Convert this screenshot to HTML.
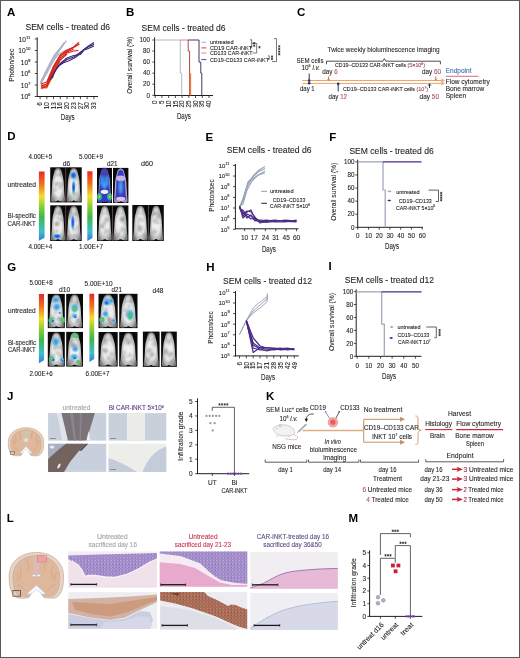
<!DOCTYPE html>
<html><head><meta charset="utf-8"><style>
html,body{margin:0;padding:0;background:#fff;}
svg{display:block;filter:blur(0.3px);}
svg text{font-family:"Liberation Sans", sans-serif;}
</style></head><body>
<svg width="520" height="658" viewBox="0 0 520 658" font-family="'Liberation Sans', sans-serif" fill="#231f20">
<defs>
<pattern id="hePur" width="3.2" height="3.2" patternUnits="userSpaceOnUse"><rect width="3.2" height="3.2" fill="#a690cc"/><circle cx="1" cy="1" r="0.62" fill="#7a62b0"/><circle cx="2.5" cy="2.4" r="0.45" fill="#8c76bc"/><circle cx="2.4" cy="0.7" r="0.45" fill="#ded4ec"/></pattern>
<pattern id="ihcBr" width="3.2" height="3.2" patternUnits="userSpaceOnUse"><rect width="3.2" height="3.2" fill="#ac705a"/><circle cx="1" cy="1" r="0.62" fill="#864634"/><circle cx="2.5" cy="2.4" r="0.45" fill="#965844"/><circle cx="2.4" cy="0.7" r="0.45" fill="#d8ac9c"/></pattern>
<filter id="bl1" x="-50%" y="-50%" width="200%" height="200%"><feGaussianBlur stdDeviation="0.8"/></filter>
<filter id="bl2" x="-50%" y="-50%" width="200%" height="200%"><feGaussianBlur stdDeviation="0.5"/></filter>
<linearGradient id="cbar" x1="0" y1="0" x2="0" y2="1">
 <stop offset="0" stop-color="#e62a2a"/><stop offset="0.18" stop-color="#f0701e"/>
 <stop offset="0.36" stop-color="#f2df2c"/><stop offset="0.5" stop-color="#8fcf3a"/>
 <stop offset="0.66" stop-color="#3cb84a"/><stop offset="0.86" stop-color="#3ec0c8"/>
 <stop offset="1" stop-color="#3a78e0"/></linearGradient>
<radialGradient id="mouse" cx="0.5" cy="0.55" r="0.55">
 <stop offset="0" stop-color="#f6f6f6"/><stop offset="0.5" stop-color="#dedede"/>
 <stop offset="0.8" stop-color="#b4b4b4"/><stop offset="1" stop-color="#7a7a7a"/></radialGradient>
<radialGradient id="blueb" cx="0.5" cy="0.5" r="0.5">
 <stop offset="0" stop-color="#2a3ee0"/><stop offset="0.45" stop-color="#3c78e6"/><stop offset="0.8" stop-color="#6cc4e8" stop-opacity="0.7"/><stop offset="1" stop-color="#8ad8f0" stop-opacity="0"/></radialGradient>
<radialGradient id="cyanb" cx="0.5" cy="0.5" r="0.5">
 <stop offset="0" stop-color="#3a86e0"/><stop offset="0.5" stop-color="#5ab4e6" stop-opacity="0.9"/><stop offset="1" stop-color="#8ad0f0" stop-opacity="0"/></radialGradient>
<radialGradient id="greenb" cx="0.5" cy="0.5" r="0.5">
 <stop offset="0" stop-color="#b8e040"/><stop offset="0.4" stop-color="#48c040"/><stop offset="0.75" stop-color="#48c0b8" stop-opacity="0.7"/><stop offset="1" stop-color="#60c8e8" stop-opacity="0"/></radialGradient>
</defs>
<rect x="0" y="0" width="520" height="658" fill="#fff"/>
<text x="7" y="16.2" font-size="11.5" fill="#000" font-weight="bold">A</text>
<text x="25.4" y="30" font-size="9" stroke="#231f20" stroke-width="0.1" textLength="84.6" lengthAdjust="spacingAndGlyphs">SEM cells - treated d6</text>
<line x1="37.2" y1="37.3" x2="37.2" y2="96.9" stroke="#231f20" stroke-width="1" />
<line x1="34.8" y1="96.5" x2="37.2" y2="96.5" stroke="#231f20" stroke-width="0.8" />
<text x="30.5" y="99.08" font-size="6.6" stroke="#231f20" stroke-width="0.1" text-anchor="end">10<tspan font-size="4.36" dy="-2.97">6</tspan></text>
<line x1="34.8" y1="85" x2="37.2" y2="85" stroke="#231f20" stroke-width="0.8" />
<text x="30.5" y="87.58" font-size="6.6" stroke="#231f20" stroke-width="0.1" text-anchor="end">10<tspan font-size="4.36" dy="-2.97">7</tspan></text>
<line x1="34.8" y1="73.5" x2="37.2" y2="73.5" stroke="#231f20" stroke-width="0.8" />
<text x="30.5" y="76.08" font-size="6.6" stroke="#231f20" stroke-width="0.1" text-anchor="end">10<tspan font-size="4.36" dy="-2.97">8</tspan></text>
<line x1="34.8" y1="62" x2="37.2" y2="62" stroke="#231f20" stroke-width="0.8" />
<text x="30.5" y="64.58" font-size="6.6" stroke="#231f20" stroke-width="0.1" text-anchor="end">10<tspan font-size="4.36" dy="-2.97">9</tspan></text>
<line x1="34.8" y1="50.5" x2="37.2" y2="50.5" stroke="#231f20" stroke-width="0.8" />
<text x="30.5" y="53.08" font-size="6.6" stroke="#231f20" stroke-width="0.1" text-anchor="end">10<tspan font-size="4.36" dy="-2.97">10</tspan></text>
<line x1="34.8" y1="39" x2="37.2" y2="39" stroke="#231f20" stroke-width="0.8" />
<text x="30.5" y="41.58" font-size="6.6" stroke="#231f20" stroke-width="0.1" text-anchor="end">10<tspan font-size="4.36" dy="-2.97">11</tspan></text>
<line x1="36.7" y1="96.5" x2="98" y2="96.5" stroke="#231f20" stroke-width="1" />
<line x1="40.1" y1="96.5" x2="40.1" y2="99.2" stroke="#231f20" stroke-width="0.8" />
<text transform="translate(42.3,102.3) rotate(-90)" x="0" y="0" font-size="6.3" stroke="#231f20" stroke-width="0.1" text-anchor="end">6</text>
<line x1="46.83" y1="96.5" x2="46.83" y2="99.2" stroke="#231f20" stroke-width="0.8" />
<text transform="translate(49.03,102.3) rotate(-90)" x="0" y="0" font-size="6.3" stroke="#231f20" stroke-width="0.1" text-anchor="end">10</text>
<line x1="53.55" y1="96.5" x2="53.55" y2="99.2" stroke="#231f20" stroke-width="0.8" />
<text transform="translate(55.75,102.3) rotate(-90)" x="0" y="0" font-size="6.3" stroke="#231f20" stroke-width="0.1" text-anchor="end">13</text>
<line x1="60.27" y1="96.5" x2="60.27" y2="99.2" stroke="#231f20" stroke-width="0.8" />
<text transform="translate(62.48,102.3) rotate(-90)" x="0" y="0" font-size="6.3" stroke="#231f20" stroke-width="0.1" text-anchor="end">16</text>
<line x1="67" y1="96.5" x2="67" y2="99.2" stroke="#231f20" stroke-width="0.8" />
<text transform="translate(69.2,102.3) rotate(-90)" x="0" y="0" font-size="6.3" stroke="#231f20" stroke-width="0.1" text-anchor="end">20</text>
<line x1="73.72" y1="96.5" x2="73.72" y2="99.2" stroke="#231f20" stroke-width="0.8" />
<text transform="translate(75.92,102.3) rotate(-90)" x="0" y="0" font-size="6.3" stroke="#231f20" stroke-width="0.1" text-anchor="end">23</text>
<line x1="80.45" y1="96.5" x2="80.45" y2="99.2" stroke="#231f20" stroke-width="0.8" />
<text transform="translate(82.65,102.3) rotate(-90)" x="0" y="0" font-size="6.3" stroke="#231f20" stroke-width="0.1" text-anchor="end">27</text>
<line x1="87.17" y1="96.5" x2="87.17" y2="99.2" stroke="#231f20" stroke-width="0.8" />
<text transform="translate(89.38,102.3) rotate(-90)" x="0" y="0" font-size="6.3" stroke="#231f20" stroke-width="0.1" text-anchor="end">30</text>
<line x1="93.9" y1="96.5" x2="93.9" y2="99.2" stroke="#231f20" stroke-width="0.8" />
<text transform="translate(96.1,102.3) rotate(-90)" x="0" y="0" font-size="6.3" stroke="#231f20" stroke-width="0.1" text-anchor="end">33</text>
<text x="60.7" y="119.6" font-size="8.4" stroke="#231f20" stroke-width="0.1" textLength="14" lengthAdjust="spacingAndGlyphs">Days</text>
<text transform="translate(13.9,65.3) rotate(-90)" x="0" y="0" font-size="7.8" stroke="#231f20" stroke-width="0.1" text-anchor="middle" textLength="33" lengthAdjust="spacingAndGlyphs">Photon/sec</text>
<polyline points="40.6,83 47,71 53.8,58 60.6,49 66.3,40.6" fill="none" stroke="#a9b2c8" stroke-width="1.3" stroke-linejoin="round" />
<polyline points="40.6,82 47,69 53.8,56 60.6,47.5 64.5,42.3" fill="none" stroke="#a9b2c8" stroke-width="1.3" stroke-linejoin="round" />
<polyline points="40.6,84 47,73 53.8,60 58.8,54 66,50" fill="none" stroke="#a9b2c8" stroke-width="1.3" stroke-linejoin="round" />
<polyline points="40.9,88 46.8,88 53.6,74 60.3,62" fill="none" stroke="#f07a3a" stroke-width="1.2" stroke-linejoin="round" />
<polyline points="40.9,89 46.8,86 53.6,76" fill="none" stroke="#f07a3a" stroke-width="1.2" stroke-linejoin="round" />
<polyline points="40.9,84 46.8,82 53.6,66 60.3,55 67,50 73.7,47 79,42.3" fill="none" stroke="#d8261c" stroke-width="1.2" stroke-linejoin="round" />
<polyline points="40.9,86 46.8,84 53.6,68 60.3,56 67,51 73.7,47.5 79.5,44" fill="none" stroke="#d8261c" stroke-width="1.2" stroke-linejoin="round" />
<polyline points="40.9,87 46.8,86 53.6,70 60.3,58 67,53 73.7,51 78.4,50.4" fill="none" stroke="#d8261c" stroke-width="1.2" stroke-linejoin="round" />
<polyline points="40.9,85 46.8,85 53.6,67 60.3,55.5 67,52 73.7,49" fill="none" stroke="#d8261c" stroke-width="1.2" stroke-linejoin="round" />
<polyline points="40.9,88 46.8,87 53.6,72 60.3,60 67,54" fill="none" stroke="#d8261c" stroke-width="1.2" stroke-linejoin="round" />
<polyline points="50,80 53.6,74 57.7,66.5 63.5,62.7 69,60.8 76,57 80.8,53 84.6,49.2 88,47 94,44.4" fill="none" stroke="#40287e" stroke-width="1.2" stroke-linejoin="round" />
<polyline points="52,78 55,71 60.3,64 67,59.5 73.7,57 78,54 82,51 87.2,47 90,45 93.9,42.5" fill="none" stroke="#40287e" stroke-width="1.2" stroke-linejoin="round" />
<polyline points="57,68 62,62 67,58 73.7,55.5 80.5,54.5 84,50 87.2,49 90.5,47.5 93.9,46" fill="none" stroke="#40287e" stroke-width="1.2" stroke-linejoin="round" />
<text x="126" y="16.2" font-size="11.5" fill="#000" font-weight="bold">B</text>
<text x="141.6" y="30.5" font-size="9" stroke="#231f20" stroke-width="0.1" textLength="84" lengthAdjust="spacingAndGlyphs">SEM cells - treated d6</text>
<line x1="154.6" y1="37.3" x2="154.6" y2="95.9" stroke="#231f20" stroke-width="1" />
<line x1="152.3" y1="95.3" x2="154.6" y2="95.3" stroke="#231f20" stroke-width="0.8" />
<text x="150" y="97.5" font-size="6.3" stroke="#231f20" stroke-width="0.1" text-anchor="end">0</text>
<line x1="152.3" y1="84.24" x2="154.6" y2="84.24" stroke="#231f20" stroke-width="0.8" />
<text x="150" y="86.44" font-size="6.3" stroke="#231f20" stroke-width="0.1" text-anchor="end">20</text>
<line x1="152.3" y1="73.18" x2="154.6" y2="73.18" stroke="#231f20" stroke-width="0.8" />
<text x="150" y="75.38" font-size="6.3" stroke="#231f20" stroke-width="0.1" text-anchor="end">40</text>
<line x1="152.3" y1="62.12" x2="154.6" y2="62.12" stroke="#231f20" stroke-width="0.8" />
<text x="150" y="64.32" font-size="6.3" stroke="#231f20" stroke-width="0.1" text-anchor="end">60</text>
<line x1="152.3" y1="51.06" x2="154.6" y2="51.06" stroke="#231f20" stroke-width="0.8" />
<text x="150" y="53.26" font-size="6.3" stroke="#231f20" stroke-width="0.1" text-anchor="end">80</text>
<line x1="152.3" y1="40" x2="154.6" y2="40" stroke="#231f20" stroke-width="0.8" />
<text x="150" y="42.2" font-size="6.3" stroke="#231f20" stroke-width="0.1" text-anchor="end">100</text>
<line x1="154.1" y1="95.5" x2="213" y2="95.5" stroke="#231f20" stroke-width="1" />
<line x1="155.2" y1="95.5" x2="155.2" y2="98" stroke="#231f20" stroke-width="0.8" />
<text transform="translate(157.4,100.6) rotate(-90)" x="0" y="0" font-size="6.3" stroke="#231f20" stroke-width="0.1" text-anchor="end">0</text>
<line x1="161.92" y1="95.5" x2="161.92" y2="98" stroke="#231f20" stroke-width="0.8" />
<text transform="translate(164.12,100.6) rotate(-90)" x="0" y="0" font-size="6.3" stroke="#231f20" stroke-width="0.1" text-anchor="end">5</text>
<line x1="168.65" y1="95.5" x2="168.65" y2="98" stroke="#231f20" stroke-width="0.8" />
<text transform="translate(170.85,100.6) rotate(-90)" x="0" y="0" font-size="6.3" stroke="#231f20" stroke-width="0.1" text-anchor="end">10</text>
<line x1="175.38" y1="95.5" x2="175.38" y2="98" stroke="#231f20" stroke-width="0.8" />
<text transform="translate(177.57,100.6) rotate(-90)" x="0" y="0" font-size="6.3" stroke="#231f20" stroke-width="0.1" text-anchor="end">15</text>
<line x1="182.1" y1="95.5" x2="182.1" y2="98" stroke="#231f20" stroke-width="0.8" />
<text transform="translate(184.3,100.6) rotate(-90)" x="0" y="0" font-size="6.3" stroke="#231f20" stroke-width="0.1" text-anchor="end">20</text>
<line x1="188.82" y1="95.5" x2="188.82" y2="98" stroke="#231f20" stroke-width="0.8" />
<text transform="translate(191.02,100.6) rotate(-90)" x="0" y="0" font-size="6.3" stroke="#231f20" stroke-width="0.1" text-anchor="end">25</text>
<line x1="195.55" y1="95.5" x2="195.55" y2="98" stroke="#231f20" stroke-width="0.8" />
<text transform="translate(197.75,100.6) rotate(-90)" x="0" y="0" font-size="6.3" stroke="#231f20" stroke-width="0.1" text-anchor="end">30</text>
<line x1="202.27" y1="95.5" x2="202.27" y2="98" stroke="#231f20" stroke-width="0.8" />
<text transform="translate(204.47,100.6) rotate(-90)" x="0" y="0" font-size="6.3" stroke="#231f20" stroke-width="0.1" text-anchor="end">35</text>
<line x1="209" y1="95.5" x2="209" y2="98" stroke="#231f20" stroke-width="0.8" />
<text transform="translate(211.2,100.6) rotate(-90)" x="0" y="0" font-size="6.3" stroke="#231f20" stroke-width="0.1" text-anchor="end">40</text>
<text x="176.9" y="118.6" font-size="8.4" stroke="#231f20" stroke-width="0.1" textLength="14" lengthAdjust="spacingAndGlyphs">Days</text>
<text transform="translate(131.9,65.3) rotate(-90)" x="0" y="0" font-size="7.8" stroke="#231f20" stroke-width="0.1" text-anchor="middle" textLength="57" lengthAdjust="spacingAndGlyphs">Overall survival (%)</text>
<polyline points="154.6,40 180.3,40 180.3,73.18 181.7,73.18 181.7,95.3" fill="none" stroke="#a8b0c0" stroke-width="0.9" stroke-linejoin="round" />
<polyline points="180.3,40 188.2,40" fill="none" stroke="#e07070" stroke-width="0.9" stroke-linejoin="round" />
<polyline points="188.2,40 188.2,51.06 189.6,51.06 189.6,95.3" fill="none" stroke="#b03030" stroke-width="0.9" stroke-linejoin="round" />
<polyline points="190.4,73.18 190.4,95.3" fill="none" stroke="#f07a40" stroke-width="1.5" stroke-linejoin="round" />
<polyline points="188.2,40 199,40 199,62.12 200.8,62.12 200.8,73.18 201.8,73.18 201.8,95.3" fill="none" stroke="#2c2450" stroke-width="0.9" stroke-linejoin="round" />
<line x1="201.3" y1="42.3" x2="206.3" y2="42.3" stroke="#a9b2c8" stroke-width="0.9" />
<text x="209.9" y="44.4" font-size="6.1" stroke="#231f20" stroke-width="0.1" textLength="23.6" lengthAdjust="spacingAndGlyphs">untreated</text>
<line x1="201.3" y1="47.9" x2="206.3" y2="47.9" stroke="#d8261c" stroke-width="0.9" />
<text x="209.9" y="50" font-size="6.1" stroke="#231f20" stroke-width="0.1" textLength="42.3" lengthAdjust="spacingAndGlyphs">CD19 CAR-iNKT</text>
<line x1="201.3" y1="53" x2="206.3" y2="53" stroke="#f07a3a" stroke-width="0.9" />
<text x="209.9" y="55.1" font-size="6.1" stroke="#231f20" stroke-width="0.1" textLength="42.6" lengthAdjust="spacingAndGlyphs">CD133 CAR-iNKT</text>
<line x1="201.3" y1="59.6" x2="206.3" y2="59.6" stroke="#40287e" stroke-width="0.9" />
<text x="209.9" y="61.7" font-size="6.1" stroke="#231f20" stroke-width="0.1" textLength="59.1" lengthAdjust="spacingAndGlyphs">CD19-CD133 CAR-iNKT</text>
<circle cx="203.8" cy="42.3" r="0.8" fill="#a9b2c8" />
<polyline points="250,39.8 251.7,39.8 251.7,47.9 250,47.9" fill="none" stroke="#231f20" stroke-width="0.6" stroke-linejoin="round" />
<polyline points="251.7,43.4 256.7,43.4 256.7,53 252.6,53" fill="none" stroke="#231f20" stroke-width="0.6" stroke-linejoin="round" />
<polyline points="268,55.8 269.2,55.8 269.2,59.6 268,59.6" fill="none" stroke="#231f20" stroke-width="0.6" stroke-linejoin="round" />
<polyline points="274,38.6 276.5,38.6 276.5,61.6 272,61.6" fill="none" stroke="#231f20" stroke-width="0.6" stroke-linejoin="round" />
<path d="M254.2,42 L254.2,44.4 M255.24,42.6 L253.16,43.8 M255.24,43.8 L253.16,42.6 " stroke="#231f20" stroke-width="0.65" fill="none"/>
<path d="M254.2,44.5 L254.2,46.9 M255.24,45.1 L253.16,46.3 M255.24,46.3 L253.16,45.1 " stroke="#231f20" stroke-width="0.65" fill="none"/>
<path d="M259.5,46 L259.5,48.4 M260.54,46.6 L258.46,47.8 M260.54,47.8 L258.46,46.6 " stroke="#231f20" stroke-width="0.65" fill="none"/>
<path d="M272,55.4 L272,57.8 M273.04,56 L270.96,57.2 M273.04,57.2 L270.96,56 " stroke="#231f20" stroke-width="0.65" fill="none"/>
<path d="M272,57.8 L272,60.2 M273.04,58.4 L270.96,59.6 M273.04,59.6 L270.96,58.4 " stroke="#231f20" stroke-width="0.65" fill="none"/>
<path d="M279.2,45.2 L279.2,47.6 M280.24,45.8 L278.16,47 M280.24,47 L278.16,45.8 " stroke="#231f20" stroke-width="0.65" fill="none"/>
<path d="M279.2,47.8 L279.2,50.2 M280.24,48.4 L278.16,49.6 M280.24,49.6 L278.16,48.4 " stroke="#231f20" stroke-width="0.65" fill="none"/>
<path d="M279.2,50.4 L279.2,52.8 M280.24,51 L278.16,52.2 M280.24,52.2 L278.16,51 " stroke="#231f20" stroke-width="0.65" fill="none"/>
<path d="M279.2,53 L279.2,55.4 M280.24,53.6 L278.16,54.8 M280.24,54.8 L278.16,53.6 " stroke="#231f20" stroke-width="0.65" fill="none"/>
<text x="297" y="16.2" font-size="11.5" fill="#000" font-weight="bold">C</text>
<text x="327.6" y="52.3" font-size="7.8" stroke="#231f20" stroke-width="0.1" textLength="112" lengthAdjust="spacingAndGlyphs">Twice weekly bioluminescence imaging</text>
<path d="M326.5,64.3 V61.2 H382.8 L384.3,58.6 L385.8,61.2 H440.4 V64.3" fill="none" stroke="#231f20" stroke-width="0.8" />
<text x="296.5" y="62.8" font-size="7" stroke="#231f20" stroke-width="0.1" textLength="27" lengthAdjust="spacingAndGlyphs">SEM cells</text>
<text x="301.5" y="70.2" font-size="6.8" stroke="#231f20" stroke-width="0.1" textLength="18.5" lengthAdjust="spacingAndGlyphs">10<tspan font-size="4" dy="-2.8">6</tspan><tspan dy="2.8"> </tspan><tspan font-style="italic">i.v.</tspan></text>
<text x="335" y="67.2" font-size="5.4" stroke="#231f20" stroke-width="0.1" textLength="90" lengthAdjust="spacingAndGlyphs">CD19–CD133 CAR-iNKT cells <tspan fill="#d65a78">(5×10<tspan font-size="3.5" dy="-2">6</tspan><tspan dy="2">)</tspan></tspan></text>
<text x="322.3" y="73.8" font-size="7" stroke="#231f20" stroke-width="0.1" textLength="15.4" lengthAdjust="spacingAndGlyphs">day <tspan fill="#d65a78">6</tspan></text>
<line x1="302.3" y1="80.5" x2="443" y2="80.5" stroke="#e9a56a" stroke-width="1" />
<line x1="302.3" y1="83.4" x2="443" y2="83.4" stroke="#e9a56a" stroke-width="1" />
<path d="M441,78.9 L444.5,80.5 L441,82.1" fill="none" stroke="#e9a56a" stroke-width="0.9" />
<path d="M441,81.8 L444.5,83.4 L441,85" fill="none" stroke="#e9a56a" stroke-width="0.9" />
<line x1="309.2" y1="73.5" x2="309.2" y2="83.8" stroke="#1f3d66" stroke-width="1" />
<circle cx="309.2" cy="80.5" r="1.3" fill="#1f3d66" />
<circle cx="309.2" cy="83.2" r="1.3" fill="#1f3d66" />
<text x="300" y="90.8" font-size="7" stroke="#231f20" stroke-width="0.1" textLength="14.6" lengthAdjust="spacingAndGlyphs">day 1</text>
<line x1="328.5" y1="76.5" x2="328.5" y2="80.3" stroke="#c8703a" stroke-width="0.9" />
<path d="M327.3,78.8 L328.5,80.4 L329.7,78.8" fill="none" stroke="#c8703a" stroke-width="0.7" />
<line x1="338.2" y1="83.4" x2="338.2" y2="91.5" stroke="#1f3d66" stroke-width="1" />
<circle cx="338.2" cy="83.9" r="1.3" fill="#1f3d66" />
<text x="328.5" y="98.8" font-size="7" stroke="#231f20" stroke-width="0.1" textLength="18.5" lengthAdjust="spacingAndGlyphs">day <tspan fill="#d65a78">12</tspan></text>
<text x="343" y="90.9" font-size="5.4" stroke="#231f20" stroke-width="0.1" textLength="85" lengthAdjust="spacingAndGlyphs">CD19–CD133 CAR-iNKT cells <tspan fill="#d65a78">(10<tspan font-size="3.5" dy="-2">7</tspan><tspan dy="2">)</tspan></tspan></text>
<text x="422" y="74.3" font-size="7" stroke="#231f20" stroke-width="0.1" textLength="19" lengthAdjust="spacingAndGlyphs">day <tspan fill="#d65a78">60</tspan></text>
<line x1="435.8" y1="76.3" x2="435.8" y2="80.3" stroke="#c8703a" stroke-width="0.9" />
<path d="M434.6,78.8 L435.8,80.4 L437,78.8" fill="none" stroke="#c8703a" stroke-width="0.7" />
<text x="419.6" y="99.3" font-size="7" stroke="#231f20" stroke-width="0.1" textLength="19.4" lengthAdjust="spacingAndGlyphs">day <tspan fill="#d65a78">50</tspan></text>
<line x1="429.5" y1="84" x2="429.5" y2="88" stroke="#1f3d66" stroke-width="1" />
<path d="M428,85.8 L429.5,83.6 L431,85.8" fill="none" stroke="#1f3d66" stroke-width="0.8" />
<text x="445.7" y="73.4" font-size="7.4" fill="#3c6cab" stroke="#3c6cab" stroke-width="0.1" textLength="25.8" lengthAdjust="spacingAndGlyphs">Endpoint</text>
<line x1="445.7" y1="76.3" x2="478.5" y2="76.3" stroke="#d65a78" stroke-width="0.9" />
<text x="445.7" y="83.6" font-size="7" stroke="#231f20" stroke-width="0.1" textLength="44" lengthAdjust="spacingAndGlyphs">Flow cytometry</text>
<text x="445.7" y="91.2" font-size="7" stroke="#231f20" stroke-width="0.1" textLength="38.5" lengthAdjust="spacingAndGlyphs">Bone marrow</text>
<text x="445.7" y="98.3" font-size="7" stroke="#231f20" stroke-width="0.1" textLength="20.5" lengthAdjust="spacingAndGlyphs">Spleen</text>
<text x="7.2" y="140.3" font-size="11.5" fill="#000" font-weight="bold">D</text>
<text x="28.5" y="158.6" font-size="6.5" stroke="#231f20" stroke-width="0.1" textLength="23.7" lengthAdjust="spacingAndGlyphs">4.00E+5</text>
<text x="62.7" y="165.8" font-size="6.8" stroke="#231f20" stroke-width="0.1" textLength="7.5" lengthAdjust="spacingAndGlyphs">d6</text>
<path d="M38.9,171.5 H44.6 V237.8 L38.9,240.8 Z" fill="url(#cbar)" />
<rect x="50.2" y="167.3" width="15.6" height="35.1" fill="#0a0a0a" />
<path d="M58,168 C58.73,168 59.61,168.24 60.18,168.7 C60.76,169.17 61.12,169.99 61.43,170.81 C61.74,171.63 61.8,172.57 62.06,173.62 C62.32,174.67 62.73,175.84 62.99,177.13 C63.25,178.42 63.46,179.76 63.62,181.34 C63.77,182.92 63.82,184.85 63.93,186.61 C64.03,188.36 64.11,190.29 64.24,191.87 C64.37,193.45 64.58,194.79 64.71,196.08 C64.84,197.37 65.1,198.66 65.02,199.59 C64.94,200.53 65.1,201.41 64.24,201.7 C63.38,201.99 60.78,201.52 59.87,201.35 C58.96,201.17 59.22,200.76 58.78,200.65 C58.34,200.53 57.66,200.53 57.22,200.65 C56.78,200.76 57.04,201.17 56.13,201.35 C55.22,201.52 52.62,201.99 51.76,201.7 C50.9,201.41 51.06,200.53 50.98,199.59 C50.9,198.66 51.16,197.37 51.29,196.08 C51.42,194.79 51.63,193.45 51.76,191.87 C51.89,190.29 51.97,188.36 52.07,186.61 C52.18,184.85 52.23,182.92 52.38,181.34 C52.54,179.76 52.75,178.42 53.01,177.13 C53.27,175.84 53.68,174.67 53.94,173.62 C54.2,172.57 54.26,171.63 54.57,170.81 C54.88,169.99 55.24,169.17 55.82,168.7 C56.39,168.24 57.27,168 58,168 Z" fill="url(#mouse)" />
<ellipse cx="58" cy="186.61" rx="4.37" ry="10.53" fill="#f2f2f2" opacity="0.55"/>
<ellipse cx="58" cy="172.21" rx="1.87" ry="2.81" fill="#f0f0f0" opacity="0.5"/>
<ellipse cx="61.29" cy="184.28" rx="2.4" ry="1.71" fill="#7a7a7a" opacity="0.4" filter="url(#bl1)"/>
<ellipse cx="57.95" cy="183.55" rx="1.88" ry="1.78" fill="#7a7a7a" opacity="0.4" filter="url(#bl1)"/>
<ellipse cx="60.36" cy="187.33" rx="2.46" ry="1.7" fill="#7a7a7a" opacity="0.4" filter="url(#bl1)"/>
<ellipse cx="60.5" cy="174.71" rx="2.37" ry="1.41" fill="#7a7a7a" opacity="0.4" filter="url(#bl1)"/>
<ellipse cx="54.5" cy="198.45" rx="1.75" ry="2.4" fill="#7a7a7a" opacity="0.4" filter="url(#bl1)"/>
<ellipse cx="55.9" cy="184.38" rx="1.65" ry="2.7" fill="#7a7a7a" opacity="0.4" filter="url(#bl1)"/>
<ellipse cx="54.66" cy="189.98" rx="2.37" ry="1.66" fill="#7a7a7a" opacity="0.4" filter="url(#bl1)"/>
<rect x="65.8" y="167.3" width="15.9" height="35.1" fill="#0a0a0a" />
<path d="M73.75,168 C74.49,168 75.39,168.24 75.98,168.7 C76.56,169.17 76.93,169.99 77.25,170.81 C77.57,171.63 77.62,172.57 77.88,173.62 C78.15,174.67 78.57,175.84 78.84,177.13 C79.1,178.42 79.31,179.76 79.47,181.34 C79.63,182.92 79.69,184.85 79.79,186.61 C79.9,188.36 79.98,190.29 80.11,191.87 C80.24,193.45 80.45,194.79 80.59,196.08 C80.72,197.37 80.98,198.66 80.91,199.59 C80.83,200.53 80.98,201.41 80.11,201.7 C79.24,201.99 76.59,201.52 75.66,201.35 C74.73,201.17 75,200.76 74.55,200.65 C74.09,200.53 73.41,200.53 72.95,200.65 C72.5,200.76 72.77,201.17 71.84,201.35 C70.91,201.52 68.26,201.99 67.39,201.7 C66.52,201.41 66.67,200.53 66.59,199.59 C66.52,198.66 66.78,197.37 66.91,196.08 C67.05,194.79 67.26,193.45 67.39,191.87 C67.52,190.29 67.6,188.36 67.71,186.61 C67.81,184.85 67.87,182.92 68.03,181.34 C68.19,179.76 68.4,178.42 68.66,177.13 C68.93,175.84 69.35,174.67 69.62,173.62 C69.88,172.57 69.93,171.63 70.25,170.81 C70.57,169.99 70.94,169.17 71.52,168.7 C72.11,168.24 73.01,168 73.75,168 Z" fill="url(#mouse)" />
<ellipse cx="73.75" cy="186.61" rx="4.45" ry="10.53" fill="#f2f2f2" opacity="0.55"/>
<ellipse cx="73.75" cy="172.21" rx="1.91" ry="2.81" fill="#f0f0f0" opacity="0.5"/>
<ellipse cx="75.38" cy="184.59" rx="1.32" ry="1.57" fill="#7a7a7a" opacity="0.4" filter="url(#bl1)"/>
<ellipse cx="75.18" cy="178.76" rx="2.12" ry="1.89" fill="#7a7a7a" opacity="0.4" filter="url(#bl1)"/>
<ellipse cx="75.26" cy="193.44" rx="2.3" ry="1.47" fill="#7a7a7a" opacity="0.4" filter="url(#bl1)"/>
<ellipse cx="73.8" cy="176.65" rx="1.5" ry="2.43" fill="#7a7a7a" opacity="0.4" filter="url(#bl1)"/>
<ellipse cx="73.68" cy="194.76" rx="1.52" ry="2.45" fill="#7a7a7a" opacity="0.4" filter="url(#bl1)"/>
<ellipse cx="70.09" cy="175.97" rx="2.07" ry="1.51" fill="#7a7a7a" opacity="0.4" filter="url(#bl1)"/>
<ellipse cx="69.88" cy="197.79" rx="1.51" ry="2.76" fill="#7a7a7a" opacity="0.4" filter="url(#bl1)"/>
<ellipse cx="73.5" cy="175.3" rx="4" ry="4.5" fill="url(#blueb)" />
<ellipse cx="73.6" cy="187.3" rx="2.2" ry="8" fill="url(#blueb)" />
<line x1="65.8" y1="167.3" x2="65.8" y2="202.4" stroke="#6a4a40" stroke-width="0.6" />
<rect x="50.2" y="205.3" width="15.6" height="35.7" fill="#0a0a0a" />
<path d="M58,206.01 C58.73,206.01 59.61,206.25 60.18,206.73 C60.76,207.2 61.12,208.04 61.43,208.87 C61.74,209.7 61.8,210.66 62.06,211.73 C62.32,212.8 62.73,213.99 62.99,215.3 C63.25,216.61 63.46,217.97 63.62,219.58 C63.77,221.19 63.82,223.15 63.93,224.94 C64.03,226.72 64.11,228.68 64.24,230.29 C64.37,231.9 64.58,233.27 64.71,234.57 C64.84,235.88 65.1,237.19 65.02,238.14 C64.94,239.1 65.1,239.99 64.24,240.29 C63.38,240.58 60.78,240.11 59.87,239.93 C58.96,239.75 59.22,239.33 58.78,239.22 C58.34,239.1 57.66,239.1 57.22,239.22 C56.78,239.33 57.04,239.75 56.13,239.93 C55.22,240.11 52.62,240.58 51.76,240.29 C50.9,239.99 51.06,239.1 50.98,238.14 C50.9,237.19 51.16,235.88 51.29,234.57 C51.42,233.27 51.63,231.9 51.76,230.29 C51.89,228.68 51.97,226.72 52.07,224.94 C52.18,223.15 52.23,221.19 52.38,219.58 C52.54,217.97 52.75,216.61 53.01,215.3 C53.27,213.99 53.68,212.8 53.94,211.73 C54.2,210.66 54.26,209.7 54.57,208.87 C54.88,208.04 55.24,207.2 55.82,206.73 C56.39,206.25 57.27,206.01 58,206.01 Z" fill="url(#mouse)" />
<ellipse cx="58" cy="224.94" rx="4.37" ry="10.71" fill="#f2f2f2" opacity="0.55"/>
<ellipse cx="58" cy="210.3" rx="1.87" ry="2.86" fill="#f0f0f0" opacity="0.5"/>
<ellipse cx="57.5" cy="223.89" rx="1.51" ry="2.7" fill="#7a7a7a" opacity="0.4" filter="url(#bl1)"/>
<ellipse cx="55.98" cy="224.49" rx="1.3" ry="1.65" fill="#7a7a7a" opacity="0.4" filter="url(#bl1)"/>
<ellipse cx="56.57" cy="231.24" rx="1.52" ry="2.29" fill="#7a7a7a" opacity="0.4" filter="url(#bl1)"/>
<ellipse cx="58.17" cy="217.81" rx="1.56" ry="1.68" fill="#7a7a7a" opacity="0.4" filter="url(#bl1)"/>
<ellipse cx="61.53" cy="219.63" rx="2.39" ry="1.98" fill="#7a7a7a" opacity="0.4" filter="url(#bl1)"/>
<ellipse cx="59.49" cy="212.86" rx="2.3" ry="2.65" fill="#7a7a7a" opacity="0.4" filter="url(#bl1)"/>
<ellipse cx="57.26" cy="223.63" rx="2.33" ry="1.87" fill="#7a7a7a" opacity="0.4" filter="url(#bl1)"/>
<ellipse cx="57.2" cy="236.3" rx="5" ry="3" fill="url(#blueb)" />
<rect x="65.8" y="205.3" width="15.9" height="35.7" fill="#0a0a0a" />
<path d="M73.75,206.01 C74.49,206.01 75.39,206.25 75.98,206.73 C76.56,207.2 76.93,208.04 77.25,208.87 C77.57,209.7 77.62,210.66 77.88,211.73 C78.15,212.8 78.57,213.99 78.84,215.3 C79.1,216.61 79.31,217.97 79.47,219.58 C79.63,221.19 79.69,223.15 79.79,224.94 C79.9,226.72 79.98,228.68 80.11,230.29 C80.24,231.9 80.45,233.27 80.59,234.57 C80.72,235.88 80.98,237.19 80.91,238.14 C80.83,239.1 80.98,239.99 80.11,240.29 C79.24,240.58 76.59,240.11 75.66,239.93 C74.73,239.75 75,239.33 74.55,239.22 C74.09,239.1 73.41,239.1 72.95,239.22 C72.5,239.33 72.77,239.75 71.84,239.93 C70.91,240.11 68.26,240.58 67.39,240.29 C66.52,239.99 66.67,239.1 66.59,238.14 C66.52,237.19 66.78,235.88 66.91,234.57 C67.05,233.27 67.26,231.9 67.39,230.29 C67.52,228.68 67.6,226.72 67.71,224.94 C67.81,223.15 67.87,221.19 68.03,219.58 C68.19,217.97 68.4,216.61 68.66,215.3 C68.93,213.99 69.35,212.8 69.62,211.73 C69.88,210.66 69.93,209.7 70.25,208.87 C70.57,208.04 70.94,207.2 71.52,206.73 C72.11,206.25 73.01,206.01 73.75,206.01 Z" fill="url(#mouse)" />
<ellipse cx="73.75" cy="224.94" rx="4.45" ry="10.71" fill="#f2f2f2" opacity="0.55"/>
<ellipse cx="73.75" cy="210.3" rx="1.91" ry="2.86" fill="#f0f0f0" opacity="0.5"/>
<ellipse cx="70.12" cy="212.78" rx="1.55" ry="2.84" fill="#7a7a7a" opacity="0.4" filter="url(#bl1)"/>
<ellipse cx="74.91" cy="229.82" rx="2.13" ry="1.43" fill="#7a7a7a" opacity="0.4" filter="url(#bl1)"/>
<ellipse cx="76.14" cy="214.73" rx="2.45" ry="2.22" fill="#7a7a7a" opacity="0.4" filter="url(#bl1)"/>
<ellipse cx="75.95" cy="219.76" rx="1.36" ry="2.06" fill="#7a7a7a" opacity="0.4" filter="url(#bl1)"/>
<ellipse cx="74.66" cy="235.26" rx="2.35" ry="1.66" fill="#7a7a7a" opacity="0.4" filter="url(#bl1)"/>
<ellipse cx="77.51" cy="226.98" rx="1.46" ry="2.44" fill="#7a7a7a" opacity="0.4" filter="url(#bl1)"/>
<ellipse cx="70.67" cy="217.15" rx="2.12" ry="1.88" fill="#7a7a7a" opacity="0.4" filter="url(#bl1)"/>
<ellipse cx="72.8" cy="222.3" rx="2.2" ry="9" fill="url(#blueb)" />
<line x1="65.8" y1="205.3" x2="65.8" y2="241" stroke="#6a4a40" stroke-width="0.6" />
<text x="7.6" y="186.6" font-size="7" stroke="#231f20" stroke-width="0.1" textLength="28.4" lengthAdjust="spacingAndGlyphs">untreated</text>
<text x="7.6" y="218.4" font-size="7" stroke="#231f20" stroke-width="0.1" textLength="28.4" lengthAdjust="spacingAndGlyphs">Bi-specific</text>
<text x="7.6" y="226" font-size="7" stroke="#231f20" stroke-width="0.1" textLength="28.1" lengthAdjust="spacingAndGlyphs">CAR-iNKT</text>
<text x="28.5" y="248.8" font-size="6.5" stroke="#231f20" stroke-width="0.1" textLength="23.7" lengthAdjust="spacingAndGlyphs">4.00E+4</text>
<text x="79" y="159.3" font-size="6.5" stroke="#231f20" stroke-width="0.1" textLength="24" lengthAdjust="spacingAndGlyphs">5.00E+9</text>
<path d="M87.3,171.2 H92.5 V238 L87.3,241 Z" fill="url(#cbar)" />
<text x="107" y="166.3" font-size="6.8" stroke="#231f20" stroke-width="0.1" textLength="10.5" lengthAdjust="spacingAndGlyphs">d21</text>
<text x="141" y="166.3" font-size="6.8" stroke="#231f20" stroke-width="0.1" textLength="12" lengthAdjust="spacingAndGlyphs">d60</text>
<rect x="97" y="167.9" width="15" height="35.1" fill="#0a0a0a" />
<path d="M104.5,168.6 C105.2,168.6 106.05,168.84 106.6,169.3 C107.15,169.77 107.5,170.59 107.8,171.41 C108.1,172.23 108.15,173.17 108.4,174.22 C108.65,175.27 109.05,176.44 109.3,177.73 C109.55,179.02 109.75,180.36 109.9,181.94 C110.05,183.52 110.1,185.45 110.2,187.21 C110.3,188.96 110.38,190.89 110.5,192.47 C110.62,194.05 110.83,195.39 110.95,196.68 C111.08,197.97 111.33,199.26 111.25,200.19 C111.17,201.13 111.33,202.01 110.5,202.3 C109.67,202.59 107.17,202.12 106.3,201.95 C105.42,201.77 105.67,201.36 105.25,201.25 C104.83,201.13 104.17,201.13 103.75,201.25 C103.33,201.36 103.58,201.77 102.7,201.95 C101.83,202.12 99.33,202.59 98.5,202.3 C97.67,202.01 97.83,201.13 97.75,200.19 C97.67,199.26 97.92,197.97 98.05,196.68 C98.17,195.39 98.38,194.05 98.5,192.47 C98.62,190.89 98.7,188.96 98.8,187.21 C98.9,185.45 98.95,183.52 99.1,181.94 C99.25,180.36 99.45,179.02 99.7,177.73 C99.95,176.44 100.35,175.27 100.6,174.22 C100.85,173.17 100.9,172.23 101.2,171.41 C101.5,170.59 101.85,169.77 102.4,169.3 C102.95,168.84 103.8,168.6 104.5,168.6 Z" fill="url(#mouse)" />
<ellipse cx="104.5" cy="187.21" rx="4.2" ry="10.53" fill="#f2f2f2" opacity="0.55"/>
<ellipse cx="104.5" cy="172.81" rx="1.8" ry="2.81" fill="#f0f0f0" opacity="0.5"/>
<ellipse cx="103.21" cy="178.17" rx="1.75" ry="2.05" fill="#7a7a7a" opacity="0.4" filter="url(#bl1)"/>
<ellipse cx="106.07" cy="177.95" rx="1.68" ry="2.48" fill="#7a7a7a" opacity="0.4" filter="url(#bl1)"/>
<ellipse cx="107.74" cy="179.81" rx="1.47" ry="2.71" fill="#7a7a7a" opacity="0.4" filter="url(#bl1)"/>
<ellipse cx="106.35" cy="179.66" rx="2.26" ry="2.8" fill="#7a7a7a" opacity="0.4" filter="url(#bl1)"/>
<ellipse cx="102.25" cy="177.38" rx="2.32" ry="1.62" fill="#7a7a7a" opacity="0.4" filter="url(#bl1)"/>
<ellipse cx="102.28" cy="176.83" rx="1.25" ry="1.44" fill="#7a7a7a" opacity="0.4" filter="url(#bl1)"/>
<ellipse cx="103.92" cy="189.37" rx="1.52" ry="2.58" fill="#7a7a7a" opacity="0.4" filter="url(#bl1)"/>
<path d="M104.5,168.6 C105.13,168.6 105.89,168.84 106.39,169.3 C106.89,169.77 107.2,170.59 107.47,171.41 C107.74,172.23 107.79,173.17 108.01,174.22 C108.23,175.27 108.59,176.44 108.82,177.73 C109.04,179.02 109.22,180.36 109.36,181.94 C109.5,183.52 109.54,185.45 109.63,187.21 C109.72,188.96 109.79,190.89 109.9,192.47 C110.01,194.05 110.19,195.39 110.31,196.68 C110.42,197.97 110.64,199.26 110.58,200.19 C110.51,201.13 110.64,202.01 109.9,202.3 C109.16,202.59 106.91,202.12 106.12,201.95 C105.33,201.77 105.56,201.36 105.17,201.25 C104.79,201.13 104.21,201.13 103.83,201.25 C103.44,201.36 103.67,201.77 102.88,201.95 C102.09,202.12 99.84,202.59 99.1,202.3 C98.36,202.01 98.49,201.13 98.42,200.19 C98.36,199.26 98.58,197.97 98.69,196.68 C98.81,195.39 98.99,194.05 99.1,192.47 C99.21,190.89 99.28,188.96 99.37,187.21 C99.46,185.45 99.5,183.52 99.64,181.94 C99.78,180.36 99.96,179.02 100.18,177.73 C100.41,176.44 100.77,175.27 100.99,174.22 C101.21,173.17 101.26,172.23 101.53,171.41 C101.8,170.59 102.11,169.77 102.61,169.3 C103.11,168.84 103.87,168.6 104.5,168.6 Z" fill="#2c3cc8" />
<ellipse cx="104.5" cy="172.11" rx="3" ry="3.51" fill="#5040a8" filter="url(#bl1)"/>
<ellipse cx="102.25" cy="181.24" rx="2.4" ry="5.62" fill="#3c8ce8" filter="url(#bl1)"/>
<ellipse cx="106.75" cy="181.24" rx="2.4" ry="5.62" fill="#3c8ce8" filter="url(#bl1)"/>
<ellipse cx="104.5" cy="185.45" rx="1.8" ry="3.51" fill="#4aa8ee" filter="url(#bl1)"/>
<ellipse cx="99.4" cy="196.68" rx="3" ry="4.21" fill="url(#greenb)" />
<ellipse cx="109.6" cy="196.68" rx="3" ry="4.21" fill="url(#greenb)" />
<ellipse cx="104.5" cy="191.77" rx="3.9" ry="2.11" fill="#f2ecf6" filter="url(#bl2)"/>
<rect x="113" y="167.9" width="15.4" height="35.1" fill="#0a0a0a" />
<path d="M120.7,168.6 C121.42,168.6 122.29,168.84 122.86,169.3 C123.42,169.77 123.78,170.59 124.09,171.41 C124.4,172.23 124.45,173.17 124.7,174.22 C124.96,175.27 125.37,176.44 125.63,177.73 C125.88,179.02 126.09,180.36 126.24,181.94 C126.4,183.52 126.45,185.45 126.55,187.21 C126.65,188.96 126.73,190.89 126.86,192.47 C126.99,194.05 127.19,195.39 127.32,196.68 C127.45,197.97 127.71,199.26 127.63,200.19 C127.55,201.13 127.71,202.01 126.86,202.3 C126.01,202.59 123.45,202.12 122.55,201.95 C121.65,201.77 121.91,201.36 121.47,201.25 C121.03,201.13 120.37,201.13 119.93,201.25 C119.49,201.36 119.75,201.77 118.85,201.95 C117.95,202.12 115.39,202.59 114.54,202.3 C113.69,202.01 113.85,201.13 113.77,200.19 C113.69,199.26 113.95,197.97 114.08,196.68 C114.21,195.39 114.41,194.05 114.54,192.47 C114.67,190.89 114.75,188.96 114.85,187.21 C114.95,185.45 115,183.52 115.16,181.94 C115.31,180.36 115.52,179.02 115.77,177.73 C116.03,176.44 116.44,175.27 116.7,174.22 C116.95,173.17 117,172.23 117.31,171.41 C117.62,170.59 117.98,169.77 118.54,169.3 C119.11,168.84 119.98,168.6 120.7,168.6 Z" fill="url(#mouse)" />
<ellipse cx="120.7" cy="187.21" rx="4.31" ry="10.53" fill="#f2f2f2" opacity="0.55"/>
<ellipse cx="120.7" cy="172.81" rx="1.85" ry="2.81" fill="#f0f0f0" opacity="0.5"/>
<ellipse cx="122.86" cy="191.39" rx="2.27" ry="2.2" fill="#7a7a7a" opacity="0.4" filter="url(#bl1)"/>
<ellipse cx="123.49" cy="188.73" rx="2.2" ry="1.43" fill="#7a7a7a" opacity="0.4" filter="url(#bl1)"/>
<ellipse cx="117.98" cy="178.14" rx="1.68" ry="2.6" fill="#7a7a7a" opacity="0.4" filter="url(#bl1)"/>
<ellipse cx="124.25" cy="182.98" rx="2.39" ry="2.09" fill="#7a7a7a" opacity="0.4" filter="url(#bl1)"/>
<ellipse cx="120.93" cy="178.65" rx="2.22" ry="1.71" fill="#7a7a7a" opacity="0.4" filter="url(#bl1)"/>
<ellipse cx="117.05" cy="182.26" rx="2.08" ry="2.32" fill="#7a7a7a" opacity="0.4" filter="url(#bl1)"/>
<ellipse cx="118.97" cy="184.99" rx="2.09" ry="1.72" fill="#7a7a7a" opacity="0.4" filter="url(#bl1)"/>
<path d="M120.7,168.6 C121.35,168.6 122.13,168.84 122.64,169.3 C123.15,169.77 123.47,170.59 123.75,171.41 C124.03,172.23 124.07,173.17 124.3,174.22 C124.53,175.27 124.9,176.44 125.14,177.73 C125.37,179.02 125.55,180.36 125.69,181.94 C125.83,183.52 125.87,185.45 125.97,187.21 C126.06,188.96 126.13,190.89 126.24,192.47 C126.36,194.05 126.54,195.39 126.66,196.68 C126.78,197.97 127.01,199.26 126.94,200.19 C126.87,201.13 127.01,202.01 126.24,202.3 C125.48,202.59 123.17,202.12 122.36,201.95 C121.55,201.77 121.79,201.36 121.39,201.25 C121,201.13 120.4,201.13 120.01,201.25 C119.61,201.36 119.85,201.77 119.04,201.95 C118.23,202.12 115.92,202.59 115.16,202.3 C114.39,202.01 114.53,201.13 114.46,200.19 C114.39,199.26 114.62,197.97 114.74,196.68 C114.86,195.39 115.04,194.05 115.16,192.47 C115.27,190.89 115.34,188.96 115.43,187.21 C115.53,185.45 115.57,183.52 115.71,181.94 C115.85,180.36 116.03,179.02 116.26,177.73 C116.5,176.44 116.87,175.27 117.1,174.22 C117.33,173.17 117.37,172.23 117.65,171.41 C117.93,170.59 118.25,169.77 118.76,169.3 C119.27,168.84 120.05,168.6 120.7,168.6 Z" fill="#a890d0" />
<path d="M120.7,169.94 C121.25,169.94 121.91,170.15 122.34,170.57 C122.77,170.99 123.04,171.73 123.27,172.46 C123.51,173.2 123.55,174.04 123.74,174.99 C123.94,175.94 124.25,176.99 124.45,178.15 C124.64,179.31 124.8,180.52 124.91,181.94 C125.03,183.36 125.07,185.1 125.15,186.68 C125.23,188.26 125.28,190 125.38,191.42 C125.48,192.84 125.64,194.05 125.73,195.21 C125.83,196.37 126.03,197.52 125.97,198.37 C125.91,199.21 126.03,200 125.38,200.26 C124.74,200.53 122.79,200.1 122.1,199.95 C121.42,199.79 121.62,199.42 121.29,199.31 C120.95,199.21 120.45,199.21 120.11,199.31 C119.78,199.42 119.98,199.79 119.3,199.95 C118.61,200.1 116.66,200.53 116.02,200.26 C115.37,200 115.49,199.21 115.43,198.37 C115.37,197.52 115.57,196.37 115.67,195.21 C115.76,194.05 115.92,192.84 116.02,191.42 C116.12,190 116.17,188.26 116.25,186.68 C116.33,185.1 116.37,183.36 116.49,181.94 C116.6,180.52 116.76,179.31 116.95,178.15 C117.15,176.99 117.46,175.94 117.66,174.99 C117.85,174.04 117.89,173.2 118.13,172.46 C118.36,171.73 118.63,170.99 119.06,170.57 C119.49,170.15 120.15,169.94 120.7,169.94 Z" fill="#3a3cc0" />
<ellipse cx="120.7" cy="178.43" rx="4.31" ry="2.81" fill="#c8b4e4" filter="url(#bl2)"/>
<ellipse cx="120.7" cy="187.21" rx="2" ry="7.02" fill="#48a4ec" filter="url(#bl1)"/>
<ellipse cx="120.7" cy="198.79" rx="4.62" ry="2.11" fill="#d8c4ea" filter="url(#bl2)"/>
<rect x="97" y="205.4" width="15.5" height="35.6" fill="#0a0a0a" />
<path d="M104.75,206.11 C105.47,206.11 106.35,206.35 106.92,206.82 C107.49,207.3 107.85,208.13 108.16,208.96 C108.47,209.79 108.52,210.74 108.78,211.81 C109.04,212.88 109.45,214.06 109.71,215.37 C109.97,216.67 110.17,218.04 110.33,219.64 C110.48,221.24 110.54,223.2 110.64,224.98 C110.74,226.76 110.82,228.72 110.95,230.32 C111.08,231.92 111.29,233.29 111.42,234.59 C111.54,235.9 111.8,237.2 111.72,238.15 C111.65,239.1 111.8,239.99 110.95,240.29 C110.1,240.58 107.51,240.11 106.61,239.93 C105.71,239.75 105.96,239.34 105.53,239.22 C105.09,239.1 104.41,239.1 103.97,239.22 C103.54,239.34 103.79,239.75 102.89,239.93 C101.99,240.11 99.4,240.58 98.55,240.29 C97.7,239.99 97.85,239.1 97.78,238.15 C97.7,237.2 97.96,235.9 98.08,234.59 C98.21,233.29 98.42,231.92 98.55,230.32 C98.68,228.72 98.76,226.76 98.86,224.98 C98.96,223.2 99.02,221.24 99.17,219.64 C99.33,218.04 99.53,216.67 99.79,215.37 C100.05,214.06 100.46,212.88 100.72,211.81 C100.98,210.74 101.03,209.79 101.34,208.96 C101.65,208.13 102.01,207.3 102.58,206.82 C103.15,206.35 104.03,206.11 104.75,206.11 Z" fill="url(#mouse)" />
<ellipse cx="104.75" cy="224.98" rx="4.34" ry="10.68" fill="#f2f2f2" opacity="0.55"/>
<ellipse cx="104.75" cy="210.38" rx="1.86" ry="2.85" fill="#f0f0f0" opacity="0.5"/>
<ellipse cx="105.18" cy="233.06" rx="1.37" ry="1.94" fill="#7a7a7a" opacity="0.4" filter="url(#bl1)"/>
<ellipse cx="107.98" cy="219.78" rx="2.14" ry="1.77" fill="#7a7a7a" opacity="0.4" filter="url(#bl1)"/>
<ellipse cx="105.95" cy="219.5" rx="1.5" ry="2.74" fill="#7a7a7a" opacity="0.4" filter="url(#bl1)"/>
<ellipse cx="101.26" cy="226.06" rx="2.32" ry="1.94" fill="#7a7a7a" opacity="0.4" filter="url(#bl1)"/>
<ellipse cx="106.65" cy="230.59" rx="2.1" ry="1.81" fill="#7a7a7a" opacity="0.4" filter="url(#bl1)"/>
<ellipse cx="104.33" cy="223.07" rx="2.04" ry="2.44" fill="#7a7a7a" opacity="0.4" filter="url(#bl1)"/>
<ellipse cx="102.82" cy="226.86" rx="1.9" ry="1.86" fill="#7a7a7a" opacity="0.4" filter="url(#bl1)"/>
<rect x="112.5" y="205.4" width="15.9" height="35.6" fill="#0a0a0a" />
<path d="M120.45,206.11 C121.19,206.11 122.09,206.35 122.68,206.82 C123.26,207.3 123.63,208.13 123.95,208.96 C124.27,209.79 124.32,210.74 124.58,211.81 C124.85,212.88 125.27,214.06 125.54,215.37 C125.8,216.67 126.02,218.04 126.17,219.64 C126.33,221.24 126.39,223.2 126.49,224.98 C126.6,226.76 126.68,228.72 126.81,230.32 C126.94,231.92 127.15,233.29 127.29,234.59 C127.42,235.9 127.68,237.2 127.61,238.15 C127.53,239.1 127.68,239.99 126.81,240.29 C125.94,240.58 123.29,240.11 122.36,239.93 C121.43,239.75 121.7,239.34 121.25,239.22 C120.79,239.1 120.11,239.1 119.66,239.22 C119.2,239.34 119.47,239.75 118.54,239.93 C117.61,240.11 114.96,240.58 114.09,240.29 C113.22,239.99 113.37,239.1 113.3,238.15 C113.22,237.2 113.48,235.9 113.61,234.59 C113.75,233.29 113.96,231.92 114.09,230.32 C114.22,228.72 114.3,226.76 114.41,224.98 C114.51,223.2 114.57,221.24 114.73,219.64 C114.88,218.04 115.1,216.67 115.36,215.37 C115.63,214.06 116.05,212.88 116.32,211.81 C116.58,210.74 116.63,209.79 116.95,208.96 C117.27,208.13 117.64,207.3 118.22,206.82 C118.81,206.35 119.71,206.11 120.45,206.11 Z" fill="url(#mouse)" />
<ellipse cx="120.45" cy="224.98" rx="4.45" ry="10.68" fill="#f2f2f2" opacity="0.55"/>
<ellipse cx="120.45" cy="210.38" rx="1.91" ry="2.85" fill="#f0f0f0" opacity="0.5"/>
<ellipse cx="118.74" cy="233.96" rx="1.69" ry="2.34" fill="#7a7a7a" opacity="0.4" filter="url(#bl1)"/>
<ellipse cx="123.09" cy="218.79" rx="2.01" ry="1.84" fill="#7a7a7a" opacity="0.4" filter="url(#bl1)"/>
<ellipse cx="124.27" cy="223.16" rx="1.41" ry="2.03" fill="#7a7a7a" opacity="0.4" filter="url(#bl1)"/>
<ellipse cx="122.81" cy="219.66" rx="2.42" ry="2.55" fill="#7a7a7a" opacity="0.4" filter="url(#bl1)"/>
<ellipse cx="121.97" cy="218.98" rx="1.83" ry="2.83" fill="#7a7a7a" opacity="0.4" filter="url(#bl1)"/>
<ellipse cx="122.84" cy="229.4" rx="2.45" ry="2.66" fill="#7a7a7a" opacity="0.4" filter="url(#bl1)"/>
<ellipse cx="116.59" cy="236.73" rx="1.51" ry="2.28" fill="#7a7a7a" opacity="0.4" filter="url(#bl1)"/>
<line x1="112.5" y1="205.4" x2="112.5" y2="241" stroke="#6a4a40" stroke-width="0.6" />
<rect x="132.3" y="205" width="16.2" height="36" fill="#0a0a0a" />
<path d="M140.4,205.72 C141.16,205.72 142.07,205.96 142.67,206.44 C143.26,206.92 143.64,207.76 143.96,208.6 C144.29,209.44 144.34,210.4 144.61,211.48 C144.88,212.56 145.31,213.76 145.58,215.08 C145.85,216.4 146.07,217.78 146.23,219.4 C146.39,221.02 146.45,223 146.56,224.8 C146.66,226.6 146.75,228.58 146.88,230.2 C147.01,231.82 147.23,233.2 147.37,234.52 C147.5,235.84 147.77,237.16 147.69,238.12 C147.61,239.08 147.77,239.98 146.88,240.28 C145.99,240.58 143.29,240.1 142.34,239.92 C141.4,239.74 141.67,239.32 141.21,239.2 C140.75,239.08 140.05,239.08 139.59,239.2 C139.13,239.32 139.4,239.74 138.46,239.92 C137.51,240.1 134.81,240.58 133.92,240.28 C133.03,239.98 133.19,239.08 133.11,238.12 C133.03,237.16 133.3,235.84 133.43,234.52 C133.57,233.2 133.79,231.82 133.92,230.2 C134.06,228.58 134.14,226.6 134.24,224.8 C134.35,223 134.41,221.02 134.57,219.4 C134.73,217.78 134.95,216.4 135.22,215.08 C135.49,213.76 135.92,212.56 136.19,211.48 C136.46,210.4 136.51,209.44 136.84,208.6 C137.16,207.76 137.54,206.92 138.13,206.44 C138.73,205.96 139.64,205.72 140.4,205.72 Z" fill="url(#mouse)" />
<ellipse cx="140.4" cy="224.8" rx="4.54" ry="10.8" fill="#f2f2f2" opacity="0.55"/>
<ellipse cx="140.4" cy="210.04" rx="1.94" ry="2.88" fill="#f0f0f0" opacity="0.5"/>
<ellipse cx="142.26" cy="219.85" rx="2.13" ry="1.57" fill="#7a7a7a" opacity="0.4" filter="url(#bl1)"/>
<ellipse cx="138.84" cy="229.16" rx="2.01" ry="2.84" fill="#7a7a7a" opacity="0.4" filter="url(#bl1)"/>
<ellipse cx="138.3" cy="222.35" rx="1.3" ry="2.04" fill="#7a7a7a" opacity="0.4" filter="url(#bl1)"/>
<ellipse cx="138.49" cy="225.99" rx="1.85" ry="1.85" fill="#7a7a7a" opacity="0.4" filter="url(#bl1)"/>
<ellipse cx="144.17" cy="234.99" rx="2.46" ry="1.78" fill="#7a7a7a" opacity="0.4" filter="url(#bl1)"/>
<ellipse cx="139.11" cy="218.67" rx="1.43" ry="1.64" fill="#7a7a7a" opacity="0.4" filter="url(#bl1)"/>
<ellipse cx="140.92" cy="228.41" rx="1.86" ry="2.71" fill="#7a7a7a" opacity="0.4" filter="url(#bl1)"/>
<rect x="148.5" y="205" width="15.3" height="36" fill="#0a0a0a" />
<path d="M156.15,205.72 C156.86,205.72 157.73,205.96 158.29,206.44 C158.85,206.92 159.21,207.76 159.52,208.6 C159.82,209.44 159.87,210.4 160.13,211.48 C160.38,212.56 160.79,213.76 161.05,215.08 C161.3,216.4 161.51,217.78 161.66,219.4 C161.81,221.02 161.86,223 161.96,224.8 C162.07,226.6 162.14,228.58 162.27,230.2 C162.4,231.82 162.6,233.2 162.73,234.52 C162.86,235.84 163.11,237.16 163.04,238.12 C162.96,239.08 163.11,239.98 162.27,240.28 C161.43,240.58 158.88,240.1 157.99,239.92 C157.09,239.74 157.35,239.32 156.92,239.2 C156.48,239.08 155.82,239.08 155.38,239.2 C154.95,239.32 155.21,239.74 154.31,239.92 C153.42,240.1 150.87,240.58 150.03,240.28 C149.19,239.98 149.34,239.08 149.26,238.12 C149.19,237.16 149.44,235.84 149.57,234.52 C149.7,233.2 149.9,231.82 150.03,230.2 C150.16,228.58 150.23,226.6 150.34,224.8 C150.44,223 150.49,221.02 150.64,219.4 C150.79,217.78 151,216.4 151.25,215.08 C151.51,213.76 151.92,212.56 152.17,211.48 C152.43,210.4 152.48,209.44 152.78,208.6 C153.09,207.76 153.45,206.92 154.01,206.44 C154.57,205.96 155.44,205.72 156.15,205.72 Z" fill="url(#mouse)" />
<ellipse cx="156.15" cy="224.8" rx="4.28" ry="10.8" fill="#f2f2f2" opacity="0.55"/>
<ellipse cx="156.15" cy="210.04" rx="1.84" ry="2.88" fill="#f0f0f0" opacity="0.5"/>
<ellipse cx="158.19" cy="217.52" rx="2.1" ry="2.37" fill="#7a7a7a" opacity="0.4" filter="url(#bl1)"/>
<ellipse cx="159.18" cy="215.68" rx="2.04" ry="1.6" fill="#7a7a7a" opacity="0.4" filter="url(#bl1)"/>
<ellipse cx="154.02" cy="213.9" rx="1.95" ry="2" fill="#7a7a7a" opacity="0.4" filter="url(#bl1)"/>
<ellipse cx="156.91" cy="213.61" rx="1.74" ry="1.93" fill="#7a7a7a" opacity="0.4" filter="url(#bl1)"/>
<ellipse cx="154.51" cy="232.02" rx="2.37" ry="2.71" fill="#7a7a7a" opacity="0.4" filter="url(#bl1)"/>
<ellipse cx="154.75" cy="220.86" rx="2.15" ry="2.3" fill="#7a7a7a" opacity="0.4" filter="url(#bl1)"/>
<ellipse cx="157.46" cy="222.59" rx="1.79" ry="1.52" fill="#7a7a7a" opacity="0.4" filter="url(#bl1)"/>
<line x1="148.5" y1="205" x2="148.5" y2="241" stroke="#6a4a40" stroke-width="0.6" />
<text x="79" y="248.8" font-size="6.5" stroke="#231f20" stroke-width="0.1" textLength="24" lengthAdjust="spacingAndGlyphs">1.00E+7</text>
<text x="205.4" y="140.8" font-size="11.5" fill="#000" font-weight="bold">E</text>
<text x="226.7" y="153.2" font-size="9" stroke="#231f20" stroke-width="0.1" textLength="85" lengthAdjust="spacingAndGlyphs">SEM cells - treated d6</text>
<line x1="235.4" y1="164" x2="235.4" y2="229.1" stroke="#231f20" stroke-width="1" />
<line x1="233" y1="229.3" x2="235.4" y2="229.3" stroke="#231f20" stroke-width="0.8" />
<text x="229.5" y="231.66" font-size="6" stroke="#231f20" stroke-width="0.1" text-anchor="end">10<tspan font-size="3.96" dy="-2.7">5</tspan></text>
<line x1="233" y1="218.65" x2="235.4" y2="218.65" stroke="#231f20" stroke-width="0.8" />
<text x="229.5" y="221.01" font-size="6" stroke="#231f20" stroke-width="0.1" text-anchor="end">10<tspan font-size="3.96" dy="-2.7">6</tspan></text>
<line x1="233" y1="208" x2="235.4" y2="208" stroke="#231f20" stroke-width="0.8" />
<text x="229.5" y="210.36" font-size="6" stroke="#231f20" stroke-width="0.1" text-anchor="end">10<tspan font-size="3.96" dy="-2.7">7</tspan></text>
<line x1="233" y1="197.35" x2="235.4" y2="197.35" stroke="#231f20" stroke-width="0.8" />
<text x="229.5" y="199.71" font-size="6" stroke="#231f20" stroke-width="0.1" text-anchor="end">10<tspan font-size="3.96" dy="-2.7">8</tspan></text>
<line x1="233" y1="186.7" x2="235.4" y2="186.7" stroke="#231f20" stroke-width="0.8" />
<text x="229.5" y="189.06" font-size="6" stroke="#231f20" stroke-width="0.1" text-anchor="end">10<tspan font-size="3.96" dy="-2.7">9</tspan></text>
<line x1="233" y1="176.05" x2="235.4" y2="176.05" stroke="#231f20" stroke-width="0.8" />
<text x="229.5" y="178.41" font-size="6" stroke="#231f20" stroke-width="0.1" text-anchor="end">10<tspan font-size="3.96" dy="-2.7">10</tspan></text>
<line x1="233" y1="165.4" x2="235.4" y2="165.4" stroke="#231f20" stroke-width="0.8" />
<text x="229.5" y="167.76" font-size="6" stroke="#231f20" stroke-width="0.1" text-anchor="end">10<tspan font-size="3.96" dy="-2.7">11</tspan></text>
<line x1="235" y1="228.8" x2="298.5" y2="228.8" stroke="#231f20" stroke-width="1" />
<line x1="244.6" y1="228.8" x2="244.6" y2="231.2" stroke="#231f20" stroke-width="0.8" />
<text x="244.6" y="239.8" font-size="6.5" stroke="#231f20" stroke-width="0.1" text-anchor="middle">10</text>
<line x1="254.3" y1="228.8" x2="254.3" y2="231.2" stroke="#231f20" stroke-width="0.8" />
<text x="254.3" y="239.8" font-size="6.5" stroke="#231f20" stroke-width="0.1" text-anchor="middle">17</text>
<line x1="265.4" y1="228.8" x2="265.4" y2="231.2" stroke="#231f20" stroke-width="0.8" />
<text x="265.4" y="239.8" font-size="6.5" stroke="#231f20" stroke-width="0.1" text-anchor="middle">24</text>
<line x1="275.8" y1="228.8" x2="275.8" y2="231.2" stroke="#231f20" stroke-width="0.8" />
<text x="275.8" y="239.8" font-size="6.5" stroke="#231f20" stroke-width="0.1" text-anchor="middle">31</text>
<line x1="286.2" y1="228.8" x2="286.2" y2="231.2" stroke="#231f20" stroke-width="0.8" />
<text x="286.2" y="239.8" font-size="6.5" stroke="#231f20" stroke-width="0.1" text-anchor="middle">45</text>
<line x1="296.5" y1="228.8" x2="296.5" y2="231.2" stroke="#231f20" stroke-width="0.8" />
<text x="296.5" y="239.8" font-size="6.5" stroke="#231f20" stroke-width="0.1" text-anchor="middle">60</text>
<text x="261.9" y="251.6" font-size="8.4" stroke="#231f20" stroke-width="0.1" textLength="14" lengthAdjust="spacingAndGlyphs">Days</text>
<text transform="translate(213.9,195.5) rotate(-90)" x="0" y="0" font-size="7.8" stroke="#231f20" stroke-width="0.1" text-anchor="middle" textLength="32.3" lengthAdjust="spacingAndGlyphs">Photon/sec</text>
<polyline points="239.6,207 243,199 248,182 252,178 258,172 265,168.5" fill="none" stroke="#9aa4b8" stroke-width="1.1" stroke-linejoin="round" />
<polyline points="239.6,207 243,201 247,187 251,180 257,176 265,171" fill="none" stroke="#9aa4b8" stroke-width="1.1" stroke-linejoin="round" />
<polyline points="239.6,208 244,196 248,184 253,176 259,170 265,166.5" fill="none" stroke="#9aa4b8" stroke-width="1.1" stroke-linejoin="round" />
<polyline points="239.6,206 243,204 247,190 252,181 258,175 265,173" fill="none" stroke="#9aa4b8" stroke-width="1.1" stroke-linejoin="round" />
<polyline points="239.6,207 243,216 247,212 251,210 255,219 260,221.5 266,220 275,221 285,220.5 296.5,220.5" fill="none" stroke="#4a2c86" stroke-width="1.2" stroke-linejoin="round" />
<polyline points="239.6,207 243,212 247,218 251,215 255,220 260,222 266,221 275,220 285,221.5 296.5,222" fill="none" stroke="#4a2c86" stroke-width="1.2" stroke-linejoin="round" />
<polyline points="239.6,209 243,210 247,216 251,219 255,218 260,221 266,222.5 275,221.5 285,220 296.5,221" fill="none" stroke="#4a2c86" stroke-width="1.2" stroke-linejoin="round" />
<polyline points="239.6,206 243,218 247,214 251,216 255,221 260,220 266,220.5 275,222 285,222 296.5,220" fill="none" stroke="#4a2c86" stroke-width="1.2" stroke-linejoin="round" />
<polyline points="239.6,208 243,214 247,211 251,212 255,217 260,223 266,221.5 275,220.5 285,221 296.5,221.5" fill="none" stroke="#4a2c86" stroke-width="1.2" stroke-linejoin="round" />
<line x1="261.3" y1="191.3" x2="267" y2="191.3" stroke="#7a8298" stroke-width="0.8" />
<text x="269.9" y="193.4" font-size="5.8" stroke="#231f20" stroke-width="0.1" textLength="23.6" lengthAdjust="spacingAndGlyphs">untreated</text>
<line x1="261.3" y1="203.3" x2="267" y2="203.3" stroke="#2a1a4a" stroke-width="1" />
<text x="272.7" y="202.2" font-size="5.8" stroke="#231f20" stroke-width="0.1" textLength="32.7" lengthAdjust="spacingAndGlyphs">CD19–CD133</text>
<text x="269.8" y="208.1" font-size="5.8" stroke="#231f20" stroke-width="0.1" textLength="40.4" lengthAdjust="spacingAndGlyphs">CAR-iNKT 5×10<tspan font-size="3.8" dy="-2.4">6</tspan></text>
<text x="329.2" y="141" font-size="11.5" fill="#000" font-weight="bold">F</text>
<text x="349.4" y="153.6" font-size="9" stroke="#231f20" stroke-width="0.1" textLength="84.3" lengthAdjust="spacingAndGlyphs">SEM cells - treated d6</text>
<line x1="357.7" y1="159.6" x2="357.7" y2="227.7" stroke="#231f20" stroke-width="1" />
<line x1="355.3" y1="227.3" x2="357.7" y2="227.3" stroke="#231f20" stroke-width="0.8" />
<text x="354.6" y="229.5" font-size="6.3" stroke="#231f20" stroke-width="0.1" text-anchor="end">0</text>
<line x1="355.3" y1="214.22" x2="357.7" y2="214.22" stroke="#231f20" stroke-width="0.8" />
<text x="354.6" y="216.42" font-size="6.3" stroke="#231f20" stroke-width="0.1" text-anchor="end">20</text>
<line x1="355.3" y1="201.14" x2="357.7" y2="201.14" stroke="#231f20" stroke-width="0.8" />
<text x="354.6" y="203.34" font-size="6.3" stroke="#231f20" stroke-width="0.1" text-anchor="end">40</text>
<line x1="355.3" y1="188.06" x2="357.7" y2="188.06" stroke="#231f20" stroke-width="0.8" />
<text x="354.6" y="190.26" font-size="6.3" stroke="#231f20" stroke-width="0.1" text-anchor="end">60</text>
<line x1="355.3" y1="174.98" x2="357.7" y2="174.98" stroke="#231f20" stroke-width="0.8" />
<text x="354.6" y="177.18" font-size="6.3" stroke="#231f20" stroke-width="0.1" text-anchor="end">80</text>
<line x1="355.3" y1="161.9" x2="357.7" y2="161.9" stroke="#231f20" stroke-width="0.8" />
<text x="354.6" y="164.1" font-size="6.3" stroke="#231f20" stroke-width="0.1" text-anchor="end">100</text>
<line x1="357.3" y1="227.3" x2="423" y2="227.3" stroke="#231f20" stroke-width="1" />
<line x1="357.7" y1="227.3" x2="357.7" y2="229.7" stroke="#231f20" stroke-width="0.8" />
<text x="357.7" y="237.8" font-size="6.3" stroke="#231f20" stroke-width="0.1" text-anchor="middle">0</text>
<line x1="368.45" y1="227.3" x2="368.45" y2="229.7" stroke="#231f20" stroke-width="0.8" />
<text x="368.45" y="237.8" font-size="6.3" stroke="#231f20" stroke-width="0.1" text-anchor="middle">10</text>
<line x1="379.2" y1="227.3" x2="379.2" y2="229.7" stroke="#231f20" stroke-width="0.8" />
<text x="379.2" y="237.8" font-size="6.3" stroke="#231f20" stroke-width="0.1" text-anchor="middle">20</text>
<line x1="389.95" y1="227.3" x2="389.95" y2="229.7" stroke="#231f20" stroke-width="0.8" />
<text x="389.95" y="237.8" font-size="6.3" stroke="#231f20" stroke-width="0.1" text-anchor="middle">30</text>
<line x1="400.7" y1="227.3" x2="400.7" y2="229.7" stroke="#231f20" stroke-width="0.8" />
<text x="400.7" y="237.8" font-size="6.3" stroke="#231f20" stroke-width="0.1" text-anchor="middle">40</text>
<line x1="411.45" y1="227.3" x2="411.45" y2="229.7" stroke="#231f20" stroke-width="0.8" />
<text x="411.45" y="237.8" font-size="6.3" stroke="#231f20" stroke-width="0.1" text-anchor="middle">50</text>
<line x1="422.2" y1="227.3" x2="422.2" y2="229.7" stroke="#231f20" stroke-width="0.8" />
<text x="422.2" y="237.8" font-size="6.3" stroke="#231f20" stroke-width="0.1" text-anchor="middle">60</text>
<text x="385" y="249.3" font-size="8.4" stroke="#231f20" stroke-width="0.1" textLength="14" lengthAdjust="spacingAndGlyphs">Days</text>
<text transform="translate(335.9,191.7) rotate(-90)" x="0" y="0" font-size="7.8" stroke="#231f20" stroke-width="0.1" text-anchor="middle" textLength="58" lengthAdjust="spacingAndGlyphs">Overall survival (%)</text>
<polyline points="357.7,161.9 383,161.9 383,190.02 385.2,190.02 385.2,227.3" fill="none" stroke="#9aa4b8" stroke-width="1.2" stroke-linejoin="round" />
<polyline points="383,161.9 421.5,161.9" fill="none" stroke="#4a2c86" stroke-width="1.2" stroke-linejoin="round" />
<line x1="387.5" y1="191.4" x2="391.4" y2="191.4" stroke="#9aa4b8" stroke-width="0.9" />
<circle cx="389.5" cy="191.4" r="0.9" fill="#9aa4b8" />
<text x="396.2" y="194.1" font-size="5.8" stroke="#231f20" stroke-width="0.1" textLength="23.5" lengthAdjust="spacingAndGlyphs">untreated</text>
<line x1="387.5" y1="200.5" x2="391" y2="200.5" stroke="#4a2c86" stroke-width="0.9" />
<circle cx="389.2" cy="200.5" r="0.9" fill="#4a2c86" />
<text x="398.8" y="203.1" font-size="5.8" stroke="#231f20" stroke-width="0.1" textLength="33" lengthAdjust="spacingAndGlyphs">CD19–CD133</text>
<text x="395.9" y="209.7" font-size="5.8" stroke="#231f20" stroke-width="0.1" textLength="39.3" lengthAdjust="spacingAndGlyphs">CAR-iNKT 5×10<tspan font-size="3.8" dy="-2.4">6</tspan></text>
<polyline points="428.5,190.1 438.5,190.1 438.5,201.5 435.9,201.5" fill="none" stroke="#231f20" stroke-width="0.7" stroke-linejoin="round" />
<path d="M441.2,191.8 L441.2,194.2 M442.24,192.4 L440.16,193.6 M442.24,193.6 L440.16,192.4 " stroke="#231f20" stroke-width="0.65" fill="none"/>
<path d="M441.2,194.2 L441.2,196.6 M442.24,194.8 L440.16,196 M442.24,196 L440.16,194.8 " stroke="#231f20" stroke-width="0.65" fill="none"/>
<path d="M441.2,196.6 L441.2,199 M442.24,197.2 L440.16,198.4 M442.24,198.4 L440.16,197.2 " stroke="#231f20" stroke-width="0.65" fill="none"/>
<path d="M441.2,199 L441.2,201.4 M442.24,199.6 L440.16,200.8 M442.24,200.8 L440.16,199.6 " stroke="#231f20" stroke-width="0.65" fill="none"/>
<text x="7.2" y="270.7" font-size="11.5" fill="#000" font-weight="bold">G</text>
<text x="29.4" y="285.4" font-size="6.5" stroke="#231f20" stroke-width="0.1" textLength="23.4" lengthAdjust="spacingAndGlyphs">5.00E+8</text>
<text x="58.9" y="292.1" font-size="6.8" stroke="#231f20" stroke-width="0.1" textLength="11.3" lengthAdjust="spacingAndGlyphs">d10</text>
<path d="M38.9,293.9 H44 V360.2 L38.9,363.2 Z" fill="url(#cbar)" />
<rect x="47.8" y="293.9" width="17" height="34.2" fill="#0a0a0a" />
<path d="M56.3,294.58 C57.09,294.58 58.06,294.81 58.68,295.27 C59.3,295.72 59.7,296.52 60.04,297.32 C60.38,298.12 60.44,299.03 60.72,300.06 C61,301.08 61.46,302.22 61.74,303.48 C62.02,304.73 62.25,306.04 62.42,307.58 C62.59,309.12 62.65,311 62.76,312.71 C62.87,314.42 62.96,316.3 63.1,317.84 C63.24,319.38 63.47,320.69 63.61,321.94 C63.75,323.2 64.03,324.45 63.95,325.36 C63.87,326.28 64.03,327.13 63.1,327.42 C62.16,327.7 59.33,327.25 58.34,327.07 C57.35,326.9 57.63,326.5 57.15,326.39 C56.67,326.28 55.93,326.28 55.45,326.39 C54.97,326.5 55.25,326.9 54.26,327.07 C53.27,327.25 50.44,327.7 49.5,327.42 C48.56,327.13 48.73,326.28 48.65,325.36 C48.56,324.45 48.85,323.2 48.99,321.94 C49.13,320.69 49.36,319.38 49.5,317.84 C49.64,316.3 49.73,314.42 49.84,312.71 C49.95,311 50.01,309.12 50.18,307.58 C50.35,306.04 50.58,304.73 50.86,303.48 C51.14,302.22 51.6,301.08 51.88,300.06 C52.16,299.03 52.22,298.12 52.56,297.32 C52.9,296.52 53.3,295.72 53.92,295.27 C54.54,294.81 55.51,294.58 56.3,294.58 Z" fill="url(#mouse)" />
<ellipse cx="56.3" cy="312.71" rx="4.76" ry="10.26" fill="#f2f2f2" opacity="0.55"/>
<ellipse cx="56.3" cy="298.69" rx="2.04" ry="2.74" fill="#f0f0f0" opacity="0.5"/>
<ellipse cx="59.58" cy="318.88" rx="2.06" ry="1.44" fill="#7a7a7a" opacity="0.4" filter="url(#bl1)"/>
<ellipse cx="52.73" cy="317.59" rx="1.62" ry="2.58" fill="#7a7a7a" opacity="0.4" filter="url(#bl1)"/>
<ellipse cx="55.75" cy="312.37" rx="1.52" ry="2.66" fill="#7a7a7a" opacity="0.4" filter="url(#bl1)"/>
<ellipse cx="54.01" cy="323.8" rx="1.43" ry="2.71" fill="#7a7a7a" opacity="0.4" filter="url(#bl1)"/>
<ellipse cx="55.97" cy="307.81" rx="2.3" ry="1.77" fill="#7a7a7a" opacity="0.4" filter="url(#bl1)"/>
<ellipse cx="58.81" cy="318.74" rx="2.14" ry="2.28" fill="#7a7a7a" opacity="0.4" filter="url(#bl1)"/>
<ellipse cx="53.52" cy="318.65" rx="1.8" ry="1.5" fill="#7a7a7a" opacity="0.4" filter="url(#bl1)"/>
<ellipse cx="55.8" cy="299.9" rx="5" ry="4" fill="url(#cyanb)" />
<ellipse cx="56.8" cy="306.9" rx="5" ry="5" fill="url(#cyanb)" />
<ellipse cx="51.3" cy="320.4" rx="3.5" ry="3.5" fill="url(#greenb)" />
<ellipse cx="52.8" cy="320.9" rx="2" ry="2" fill="url(#blueb)" />
<ellipse cx="62.8" cy="319.9" rx="3" ry="3.5" fill="url(#greenb)" />
<ellipse cx="59.8" cy="312.9" rx="2" ry="2" fill="url(#cyanb)" />
<rect x="66.2" y="293.9" width="16.8" height="34.2" fill="#0a0a0a" />
<path d="M74.6,294.58 C75.38,294.58 76.34,294.81 76.95,295.27 C77.57,295.72 77.96,296.52 78.3,297.32 C78.63,298.12 78.69,299.03 78.97,300.06 C79.25,301.08 79.7,302.22 79.98,303.48 C80.26,304.73 80.48,306.04 80.65,307.58 C80.82,309.12 80.87,311 80.98,312.71 C81.1,314.42 81.18,316.3 81.32,317.84 C81.46,319.38 81.68,320.69 81.82,321.94 C81.96,323.2 82.24,324.45 82.16,325.36 C82.08,326.28 82.24,327.13 81.32,327.42 C80.4,327.7 77.6,327.25 76.62,327.07 C75.64,326.9 75.92,326.5 75.44,326.39 C74.96,326.28 74.24,326.28 73.76,326.39 C73.28,326.5 73.56,326.9 72.58,327.07 C71.6,327.25 68.8,327.7 67.88,327.42 C66.96,327.13 67.12,326.28 67.04,325.36 C66.96,324.45 67.24,323.2 67.38,321.94 C67.52,320.69 67.74,319.38 67.88,317.84 C68.02,316.3 68.1,314.42 68.22,312.71 C68.33,311 68.38,309.12 68.55,307.58 C68.72,306.04 68.94,304.73 69.22,303.48 C69.5,302.22 69.95,301.08 70.23,300.06 C70.51,299.03 70.57,298.12 70.9,297.32 C71.24,296.52 71.63,295.72 72.25,295.27 C72.86,294.81 73.82,294.58 74.6,294.58 Z" fill="url(#mouse)" />
<ellipse cx="74.6" cy="312.71" rx="4.7" ry="10.26" fill="#f2f2f2" opacity="0.55"/>
<ellipse cx="74.6" cy="298.69" rx="2.02" ry="2.74" fill="#f0f0f0" opacity="0.5"/>
<ellipse cx="73.87" cy="307.09" rx="1.87" ry="1.77" fill="#7a7a7a" opacity="0.4" filter="url(#bl1)"/>
<ellipse cx="78.53" cy="319.25" rx="1.69" ry="1.76" fill="#7a7a7a" opacity="0.4" filter="url(#bl1)"/>
<ellipse cx="71" cy="317.49" rx="1.52" ry="1.62" fill="#7a7a7a" opacity="0.4" filter="url(#bl1)"/>
<ellipse cx="77.25" cy="321.24" rx="2.07" ry="2.15" fill="#7a7a7a" opacity="0.4" filter="url(#bl1)"/>
<ellipse cx="76.88" cy="303.43" rx="2.15" ry="2.58" fill="#7a7a7a" opacity="0.4" filter="url(#bl1)"/>
<ellipse cx="70.96" cy="300.94" rx="2.11" ry="1.71" fill="#7a7a7a" opacity="0.4" filter="url(#bl1)"/>
<ellipse cx="73.18" cy="314.62" rx="1.39" ry="2.27" fill="#7a7a7a" opacity="0.4" filter="url(#bl1)"/>
<ellipse cx="74.7" cy="307.9" rx="5" ry="6" fill="url(#cyanb)" />
<ellipse cx="74.7" cy="308.9" rx="2.8" ry="3.5" fill="url(#greenb)" />
<ellipse cx="74.7" cy="315.9" rx="3.5" ry="3" fill="url(#cyanb)" />
<ellipse cx="75.2" cy="316.9" rx="1.8" ry="1.8" fill="url(#blueb)" />
<rect x="47.8" y="331.9" width="17" height="34.7" fill="#0a0a0a" />
<path d="M56.3,332.59 C57.09,332.59 58.06,332.83 58.68,333.29 C59.3,333.75 59.7,334.56 60.04,335.37 C60.38,336.18 60.44,337.1 60.72,338.15 C61,339.19 61.46,340.34 61.74,341.62 C62.02,342.89 62.25,344.22 62.42,345.78 C62.59,347.34 62.65,349.25 62.76,350.99 C62.87,352.72 62.96,354.63 63.1,356.19 C63.24,357.75 63.47,359.08 63.61,360.35 C63.75,361.63 64.03,362.9 63.95,363.82 C63.87,364.75 64.03,365.62 63.1,365.91 C62.16,366.2 59.33,365.73 58.34,365.56 C57.35,365.39 57.63,364.98 57.15,364.87 C56.67,364.75 55.93,364.75 55.45,364.87 C54.97,364.98 55.25,365.39 54.26,365.56 C53.27,365.73 50.44,366.2 49.5,365.91 C48.56,365.62 48.73,364.75 48.65,363.82 C48.56,362.9 48.85,361.63 48.99,360.35 C49.13,359.08 49.36,357.75 49.5,356.19 C49.64,354.63 49.73,352.72 49.84,350.99 C49.95,349.25 50.01,347.34 50.18,345.78 C50.35,344.22 50.58,342.89 50.86,341.62 C51.14,340.34 51.6,339.19 51.88,338.15 C52.16,337.1 52.22,336.18 52.56,335.37 C52.9,334.56 53.3,333.75 53.92,333.29 C54.54,332.83 55.51,332.59 56.3,332.59 Z" fill="url(#mouse)" />
<ellipse cx="56.3" cy="350.99" rx="4.76" ry="10.41" fill="#f2f2f2" opacity="0.55"/>
<ellipse cx="56.3" cy="336.76" rx="2.04" ry="2.78" fill="#f0f0f0" opacity="0.5"/>
<ellipse cx="60.4" cy="347.47" rx="2.27" ry="1.95" fill="#7a7a7a" opacity="0.4" filter="url(#bl1)"/>
<ellipse cx="60.08" cy="355.62" rx="1.47" ry="2.51" fill="#7a7a7a" opacity="0.4" filter="url(#bl1)"/>
<ellipse cx="52.45" cy="339.01" rx="1.66" ry="2.54" fill="#7a7a7a" opacity="0.4" filter="url(#bl1)"/>
<ellipse cx="57.47" cy="352.85" rx="2.16" ry="1.8" fill="#7a7a7a" opacity="0.4" filter="url(#bl1)"/>
<ellipse cx="55.18" cy="347.83" rx="2.29" ry="2.52" fill="#7a7a7a" opacity="0.4" filter="url(#bl1)"/>
<ellipse cx="52.76" cy="355.79" rx="2.36" ry="2.01" fill="#7a7a7a" opacity="0.4" filter="url(#bl1)"/>
<ellipse cx="57.5" cy="346.54" rx="1.36" ry="1.56" fill="#7a7a7a" opacity="0.4" filter="url(#bl1)"/>
<ellipse cx="55.8" cy="341.9" rx="5" ry="6" fill="url(#cyanb)" />
<ellipse cx="51.8" cy="358.9" rx="3.5" ry="3.5" fill="url(#greenb)" />
<ellipse cx="53.3" cy="359.9" rx="2" ry="2" fill="url(#blueb)" />
<ellipse cx="61.8" cy="359.9" rx="2.5" ry="3" fill="url(#cyanb)" />
<ellipse cx="62.8" cy="360.9" rx="1.5" ry="2" fill="url(#blueb)" />
<rect x="66.2" y="331.9" width="16.8" height="34.7" fill="#0a0a0a" />
<path d="M74.6,332.59 C75.38,332.59 76.34,332.83 76.95,333.29 C77.57,333.75 77.96,334.56 78.3,335.37 C78.63,336.18 78.69,337.1 78.97,338.15 C79.25,339.19 79.7,340.34 79.98,341.62 C80.26,342.89 80.48,344.22 80.65,345.78 C80.82,347.34 80.87,349.25 80.98,350.99 C81.1,352.72 81.18,354.63 81.32,356.19 C81.46,357.75 81.68,359.08 81.82,360.35 C81.96,361.63 82.24,362.9 82.16,363.82 C82.08,364.75 82.24,365.62 81.32,365.91 C80.4,366.2 77.6,365.73 76.62,365.56 C75.64,365.39 75.92,364.98 75.44,364.87 C74.96,364.75 74.24,364.75 73.76,364.87 C73.28,364.98 73.56,365.39 72.58,365.56 C71.6,365.73 68.8,366.2 67.88,365.91 C66.96,365.62 67.12,364.75 67.04,363.82 C66.96,362.9 67.24,361.63 67.38,360.35 C67.52,359.08 67.74,357.75 67.88,356.19 C68.02,354.63 68.1,352.72 68.22,350.99 C68.33,349.25 68.38,347.34 68.55,345.78 C68.72,344.22 68.94,342.89 69.22,341.62 C69.5,340.34 69.95,339.19 70.23,338.15 C70.51,337.1 70.57,336.18 70.9,335.37 C71.24,334.56 71.63,333.75 72.25,333.29 C72.86,332.83 73.82,332.59 74.6,332.59 Z" fill="url(#mouse)" />
<ellipse cx="74.6" cy="350.99" rx="4.7" ry="10.41" fill="#f2f2f2" opacity="0.55"/>
<ellipse cx="74.6" cy="336.76" rx="2.02" ry="2.78" fill="#f0f0f0" opacity="0.5"/>
<ellipse cx="72.68" cy="360.5" rx="2.24" ry="2.32" fill="#7a7a7a" opacity="0.4" filter="url(#bl1)"/>
<ellipse cx="74.6" cy="346.23" rx="1.7" ry="2.43" fill="#7a7a7a" opacity="0.4" filter="url(#bl1)"/>
<ellipse cx="71.67" cy="342.36" rx="2.43" ry="2.26" fill="#7a7a7a" opacity="0.4" filter="url(#bl1)"/>
<ellipse cx="76.65" cy="346.13" rx="2.01" ry="2.4" fill="#7a7a7a" opacity="0.4" filter="url(#bl1)"/>
<ellipse cx="70.93" cy="361.9" rx="1.75" ry="2.18" fill="#7a7a7a" opacity="0.4" filter="url(#bl1)"/>
<ellipse cx="72.51" cy="345.62" rx="2.64" ry="2.26" fill="#7a7a7a" opacity="0.4" filter="url(#bl1)"/>
<ellipse cx="73.24" cy="346.18" rx="1.42" ry="2.5" fill="#7a7a7a" opacity="0.4" filter="url(#bl1)"/>
<ellipse cx="75.2" cy="348.9" rx="4" ry="4" fill="url(#cyanb)" />
<ellipse cx="74.2" cy="356.9" rx="5" ry="4" fill="url(#cyanb)" />
<ellipse cx="74.7" cy="357.9" rx="2.2" ry="2" fill="url(#blueb)" />
<ellipse cx="75.2" cy="335.9" rx="4" ry="3" fill="url(#greenb)" />
<ellipse cx="78.2" cy="361.9" rx="2.5" ry="2.5" fill="url(#greenb)" />
<text x="8" y="313.3" font-size="7" stroke="#231f20" stroke-width="0.1" textLength="27.7" lengthAdjust="spacingAndGlyphs">untreated</text>
<text x="8" y="345.1" font-size="7" stroke="#231f20" stroke-width="0.1" textLength="28" lengthAdjust="spacingAndGlyphs">Bi-specific</text>
<text x="8" y="352.4" font-size="7" stroke="#231f20" stroke-width="0.1" textLength="27.7" lengthAdjust="spacingAndGlyphs">CAR-iNKT</text>
<text x="29.4" y="376" font-size="6.5" stroke="#231f20" stroke-width="0.1" textLength="23.4" lengthAdjust="spacingAndGlyphs">2.00E+6</text>
<text x="84.6" y="285.6" font-size="6.5" stroke="#231f20" stroke-width="0.1" textLength="27.9" lengthAdjust="spacingAndGlyphs">5.00E+10</text>
<path d="M89.4,293.8 H94.2 V359 L89.4,362 Z" fill="url(#cbar)" />
<text x="111.5" y="292.3" font-size="6.8" stroke="#231f20" stroke-width="0.1" textLength="10.5" lengthAdjust="spacingAndGlyphs">d21</text>
<text x="152.5" y="292.6" font-size="6.8" stroke="#231f20" stroke-width="0.1" textLength="10.9" lengthAdjust="spacingAndGlyphs">d48</text>
<rect x="98.5" y="293.8" width="19.2" height="34.3" fill="#0a0a0a" />
<path d="M108.1,294.49 C109,294.49 110.08,294.71 110.79,295.17 C111.49,295.63 111.94,296.43 112.32,297.23 C112.71,298.03 112.77,298.94 113.09,299.97 C113.41,301 113.92,302.15 114.24,303.4 C114.56,304.66 114.82,305.98 115.01,307.52 C115.2,309.06 115.27,310.95 115.4,312.67 C115.52,314.38 115.62,316.27 115.78,317.81 C115.94,319.35 116.2,320.67 116.36,321.93 C116.52,323.18 116.84,324.44 116.74,325.36 C116.64,326.27 116.84,327.13 115.78,327.41 C114.72,327.7 111.52,327.24 110.4,327.07 C109.28,326.9 109.6,326.5 109.06,326.38 C108.52,326.27 107.68,326.27 107.14,326.38 C106.6,326.5 106.92,326.9 105.8,327.07 C104.68,327.24 101.48,327.7 100.42,327.41 C99.36,327.13 99.56,326.27 99.46,325.36 C99.36,324.44 99.68,323.18 99.84,321.93 C100,320.67 100.26,319.35 100.42,317.81 C100.58,316.27 100.68,314.38 100.8,312.67 C100.93,310.95 101,309.06 101.19,307.52 C101.38,305.98 101.64,304.66 101.96,303.4 C102.28,302.15 102.79,301 103.11,299.97 C103.43,298.94 103.49,298.03 103.88,297.23 C104.26,296.43 104.71,295.63 105.41,295.17 C106.12,294.71 107.2,294.49 108.1,294.49 Z" fill="url(#mouse)" />
<ellipse cx="108.1" cy="312.67" rx="5.38" ry="10.29" fill="#f2f2f2" opacity="0.55"/>
<ellipse cx="108.1" cy="298.6" rx="2.3" ry="2.74" fill="#f0f0f0" opacity="0.5"/>
<ellipse cx="106.14" cy="316.19" rx="2.7" ry="1.55" fill="#7a7a7a" opacity="0.4" filter="url(#bl1)"/>
<ellipse cx="105.76" cy="309.84" rx="2.83" ry="1.47" fill="#7a7a7a" opacity="0.4" filter="url(#bl1)"/>
<ellipse cx="109.79" cy="319.4" rx="2.45" ry="2.13" fill="#7a7a7a" opacity="0.4" filter="url(#bl1)"/>
<ellipse cx="108.7" cy="319.28" rx="2.16" ry="2.09" fill="#7a7a7a" opacity="0.4" filter="url(#bl1)"/>
<ellipse cx="110.16" cy="321.76" rx="2.48" ry="2.41" fill="#7a7a7a" opacity="0.4" filter="url(#bl1)"/>
<ellipse cx="107.18" cy="324.07" rx="1.98" ry="1.44" fill="#7a7a7a" opacity="0.4" filter="url(#bl1)"/>
<ellipse cx="111.23" cy="323.69" rx="2.3" ry="2.54" fill="#7a7a7a" opacity="0.4" filter="url(#bl1)"/>
<ellipse cx="107.5" cy="301.8" rx="6" ry="5" fill="url(#cyanb)" />
<ellipse cx="106.5" cy="302.8" rx="3" ry="3" fill="url(#blueb)" />
<ellipse cx="111.5" cy="300.8" rx="3" ry="3" fill="url(#cyanb)" />
<ellipse cx="102" cy="319.8" rx="3.5" ry="3.5" fill="url(#greenb)" />
<ellipse cx="105.5" cy="313.8" rx="4" ry="4" fill="url(#cyanb)" />
<ellipse cx="113.5" cy="320.8" rx="2.5" ry="2.5" fill="url(#cyanb)" />
<rect x="119.2" y="293.8" width="18.3" height="34.3" fill="#0a0a0a" />
<path d="M128.35,294.49 C129.2,294.49 130.24,294.71 130.91,295.17 C131.58,295.63 132.01,296.43 132.38,297.23 C132.74,298.03 132.8,298.94 133.11,299.97 C133.41,301 133.9,302.15 134.21,303.4 C134.51,304.66 134.75,305.98 134.94,307.52 C135.12,309.06 135.18,310.95 135.3,312.67 C135.43,314.38 135.52,316.27 135.67,317.81 C135.82,319.35 136.07,320.67 136.22,321.93 C136.37,323.18 136.68,324.44 136.59,325.36 C136.49,326.27 136.68,327.13 135.67,327.41 C134.66,327.7 131.61,327.24 130.55,327.07 C129.48,326.9 129.78,326.5 129.27,326.38 C128.75,326.27 127.95,326.27 127.44,326.38 C126.92,326.5 127.22,326.9 126.15,327.07 C125.09,327.24 122.04,327.7 121.03,327.41 C120.02,327.13 120.21,326.27 120.12,325.36 C120.02,324.44 120.33,323.18 120.48,321.93 C120.63,320.67 120.88,319.35 121.03,317.81 C121.18,316.27 121.27,314.38 121.4,312.67 C121.52,310.95 121.58,309.06 121.76,307.52 C121.94,305.98 122.19,304.66 122.49,303.4 C122.8,302.15 123.29,301 123.59,299.97 C123.9,298.94 123.96,298.03 124.32,297.23 C124.69,296.43 125.12,295.63 125.79,295.17 C126.46,294.71 127.5,294.49 128.35,294.49 Z" fill="url(#mouse)" />
<ellipse cx="128.35" cy="312.67" rx="5.12" ry="10.29" fill="#f2f2f2" opacity="0.55"/>
<ellipse cx="128.35" cy="298.6" rx="2.2" ry="2.74" fill="#f0f0f0" opacity="0.5"/>
<ellipse cx="125.97" cy="310.33" rx="2.62" ry="1.94" fill="#7a7a7a" opacity="0.4" filter="url(#bl1)"/>
<ellipse cx="126.6" cy="315.22" rx="1.81" ry="1.58" fill="#7a7a7a" opacity="0.4" filter="url(#bl1)"/>
<ellipse cx="129.1" cy="306.38" rx="1.58" ry="1.93" fill="#7a7a7a" opacity="0.4" filter="url(#bl1)"/>
<ellipse cx="130.88" cy="300.85" rx="2.1" ry="1.62" fill="#7a7a7a" opacity="0.4" filter="url(#bl1)"/>
<ellipse cx="131" cy="313.55" rx="1.89" ry="1.85" fill="#7a7a7a" opacity="0.4" filter="url(#bl1)"/>
<ellipse cx="128.15" cy="314.54" rx="1.53" ry="2.04" fill="#7a7a7a" opacity="0.4" filter="url(#bl1)"/>
<ellipse cx="128.62" cy="313.5" rx="2.57" ry="2.58" fill="#7a7a7a" opacity="0.4" filter="url(#bl1)"/>
<ellipse cx="130.2" cy="314.8" rx="5" ry="7" fill="url(#cyanb)" />
<ellipse cx="130.2" cy="315.8" rx="3" ry="4.5" fill="url(#greenb)" />
<ellipse cx="130.2" cy="315.8" rx="1.2" ry="1.5" fill="url(#greenb)" />
<rect x="98.5" y="332" width="19.2" height="34.5" fill="#0a0a0a" />
<path d="M108.1,332.69 C109,332.69 110.08,332.92 110.79,333.38 C111.49,333.84 111.94,334.64 112.32,335.45 C112.71,336.25 112.77,337.17 113.09,338.21 C113.41,339.25 113.92,340.4 114.24,341.66 C114.56,342.93 114.82,344.25 115.01,345.8 C115.2,347.35 115.27,349.25 115.4,350.98 C115.52,352.7 115.62,354.6 115.78,356.15 C115.94,357.7 116.2,359.03 116.36,360.29 C116.52,361.56 116.84,362.82 116.74,363.74 C116.64,364.66 116.84,365.52 115.78,365.81 C114.72,366.1 111.52,365.64 110.4,365.46 C109.28,365.29 109.6,364.89 109.06,364.77 C108.52,364.66 107.68,364.66 107.14,364.77 C106.6,364.89 106.92,365.29 105.8,365.46 C104.68,365.64 101.48,366.1 100.42,365.81 C99.36,365.52 99.56,364.66 99.46,363.74 C99.36,362.82 99.68,361.56 99.84,360.29 C100,359.03 100.26,357.7 100.42,356.15 C100.58,354.6 100.68,352.7 100.8,350.98 C100.93,349.25 101,347.35 101.19,345.8 C101.38,344.25 101.64,342.93 101.96,341.66 C102.28,340.4 102.79,339.25 103.11,338.21 C103.43,337.17 103.49,336.25 103.88,335.45 C104.26,334.64 104.71,333.84 105.41,333.38 C106.12,332.92 107.2,332.69 108.1,332.69 Z" fill="url(#mouse)" />
<ellipse cx="108.1" cy="350.98" rx="5.38" ry="10.35" fill="#f2f2f2" opacity="0.55"/>
<ellipse cx="108.1" cy="336.83" rx="2.3" ry="2.76" fill="#f0f0f0" opacity="0.5"/>
<ellipse cx="105.36" cy="340.23" rx="2.22" ry="1.85" fill="#7a7a7a" opacity="0.4" filter="url(#bl1)"/>
<ellipse cx="105.07" cy="343.22" rx="2.64" ry="1.48" fill="#7a7a7a" opacity="0.4" filter="url(#bl1)"/>
<ellipse cx="109.09" cy="358.39" rx="2.43" ry="2.52" fill="#7a7a7a" opacity="0.4" filter="url(#bl1)"/>
<ellipse cx="104.61" cy="349.96" rx="2.89" ry="1.76" fill="#7a7a7a" opacity="0.4" filter="url(#bl1)"/>
<ellipse cx="105.6" cy="351.27" rx="2.27" ry="2.16" fill="#7a7a7a" opacity="0.4" filter="url(#bl1)"/>
<ellipse cx="111.71" cy="353.87" rx="2.09" ry="2.47" fill="#7a7a7a" opacity="0.4" filter="url(#bl1)"/>
<ellipse cx="112.86" cy="362.71" rx="1.71" ry="2.38" fill="#7a7a7a" opacity="0.4" filter="url(#bl1)"/>
<rect x="119.2" y="332" width="18.3" height="34.5" fill="#0a0a0a" />
<path d="M128.35,332.69 C129.2,332.69 130.24,332.92 130.91,333.38 C131.58,333.84 132.01,334.64 132.38,335.45 C132.74,336.25 132.8,337.17 133.11,338.21 C133.41,339.25 133.9,340.4 134.21,341.66 C134.51,342.93 134.75,344.25 134.94,345.8 C135.12,347.35 135.18,349.25 135.3,350.98 C135.43,352.7 135.52,354.6 135.67,356.15 C135.82,357.7 136.07,359.03 136.22,360.29 C136.37,361.56 136.68,362.82 136.59,363.74 C136.49,364.66 136.68,365.52 135.67,365.81 C134.66,366.1 131.61,365.64 130.55,365.46 C129.48,365.29 129.78,364.89 129.27,364.77 C128.75,364.66 127.95,364.66 127.44,364.77 C126.92,364.89 127.22,365.29 126.15,365.46 C125.09,365.64 122.04,366.1 121.03,365.81 C120.02,365.52 120.21,364.66 120.12,363.74 C120.02,362.82 120.33,361.56 120.48,360.29 C120.63,359.03 120.88,357.7 121.03,356.15 C121.18,354.6 121.27,352.7 121.4,350.98 C121.52,349.25 121.58,347.35 121.76,345.8 C121.94,344.25 122.19,342.93 122.49,341.66 C122.8,340.4 123.29,339.25 123.59,338.21 C123.9,337.17 123.96,336.25 124.32,335.45 C124.69,334.64 125.12,333.84 125.79,333.38 C126.46,332.92 127.5,332.69 128.35,332.69 Z" fill="url(#mouse)" />
<ellipse cx="128.35" cy="350.98" rx="5.12" ry="10.35" fill="#f2f2f2" opacity="0.55"/>
<ellipse cx="128.35" cy="336.83" rx="2.2" ry="2.76" fill="#f0f0f0" opacity="0.5"/>
<ellipse cx="127.67" cy="339.13" rx="1.62" ry="1.39" fill="#7a7a7a" opacity="0.4" filter="url(#bl1)"/>
<ellipse cx="124.42" cy="352.78" rx="1.74" ry="1.76" fill="#7a7a7a" opacity="0.4" filter="url(#bl1)"/>
<ellipse cx="128.25" cy="342.64" rx="2.64" ry="1.92" fill="#7a7a7a" opacity="0.4" filter="url(#bl1)"/>
<ellipse cx="128.96" cy="342.58" rx="2.08" ry="1.66" fill="#7a7a7a" opacity="0.4" filter="url(#bl1)"/>
<ellipse cx="129.8" cy="355.2" rx="2.2" ry="1.83" fill="#7a7a7a" opacity="0.4" filter="url(#bl1)"/>
<ellipse cx="124.05" cy="356.82" rx="1.95" ry="1.82" fill="#7a7a7a" opacity="0.4" filter="url(#bl1)"/>
<ellipse cx="131.12" cy="361.78" rx="1.96" ry="1.75" fill="#7a7a7a" opacity="0.4" filter="url(#bl1)"/>
<rect x="142.9" y="331.6" width="16.7" height="35.3" fill="#0a0a0a" />
<path d="M151.25,332.31 C152.03,332.31 152.98,332.54 153.59,333.01 C154.2,333.48 154.59,334.31 154.92,335.13 C155.26,335.95 155.31,336.89 155.59,337.95 C155.87,339.01 156.32,340.19 156.59,341.48 C156.87,342.78 157.09,344.13 157.26,345.72 C157.43,347.31 157.48,349.25 157.6,351.02 C157.71,352.78 157.79,354.72 157.93,356.31 C158.07,357.9 158.29,359.25 158.43,360.55 C158.57,361.84 158.85,363.13 158.77,364.08 C158.68,365.02 158.85,365.9 157.93,366.19 C157.01,366.49 154.23,366.02 153.25,365.84 C152.28,365.66 152.56,365.25 152.09,365.13 C151.61,365.02 150.89,365.02 150.41,365.13 C149.94,365.25 150.22,365.66 149.25,365.84 C148.27,366.02 145.49,366.49 144.57,366.19 C143.65,365.9 143.82,365.02 143.74,364.08 C143.65,363.13 143.93,361.84 144.07,360.55 C144.21,359.25 144.43,357.9 144.57,356.31 C144.71,354.72 144.79,352.78 144.9,351.02 C145.02,349.25 145.07,347.31 145.24,345.72 C145.41,344.13 145.63,342.78 145.91,341.48 C146.18,340.19 146.63,339.01 146.91,337.95 C147.19,336.89 147.24,335.95 147.58,335.13 C147.91,334.31 148.3,333.48 148.91,333.01 C149.52,332.54 150.47,332.31 151.25,332.31 Z" fill="url(#mouse)" />
<ellipse cx="151.25" cy="351.02" rx="4.68" ry="10.59" fill="#f2f2f2" opacity="0.55"/>
<ellipse cx="151.25" cy="336.54" rx="2" ry="2.82" fill="#f0f0f0" opacity="0.5"/>
<ellipse cx="152.5" cy="354.03" rx="1.92" ry="2.49" fill="#7a7a7a" opacity="0.4" filter="url(#bl1)"/>
<ellipse cx="154.3" cy="344.11" rx="2.17" ry="2.59" fill="#7a7a7a" opacity="0.4" filter="url(#bl1)"/>
<ellipse cx="152.86" cy="361.66" rx="1.41" ry="1.71" fill="#7a7a7a" opacity="0.4" filter="url(#bl1)"/>
<ellipse cx="148.3" cy="359.49" rx="2.18" ry="2.12" fill="#7a7a7a" opacity="0.4" filter="url(#bl1)"/>
<ellipse cx="150.89" cy="349.83" rx="2.26" ry="1.45" fill="#7a7a7a" opacity="0.4" filter="url(#bl1)"/>
<ellipse cx="148.59" cy="351.12" rx="2.04" ry="2.78" fill="#7a7a7a" opacity="0.4" filter="url(#bl1)"/>
<ellipse cx="151.3" cy="355.29" rx="1.82" ry="2.29" fill="#7a7a7a" opacity="0.4" filter="url(#bl1)"/>
<rect x="161.1" y="331.6" width="15.7" height="35.3" fill="#0a0a0a" />
<path d="M168.95,332.31 C169.68,332.31 170.57,332.54 171.15,333.01 C171.72,333.48 172.09,334.31 172.4,335.13 C172.72,335.95 172.77,336.89 173.03,337.95 C173.29,339.01 173.71,340.19 173.97,341.48 C174.24,342.78 174.44,344.13 174.6,345.72 C174.76,347.31 174.81,349.25 174.92,351.02 C175.02,352.78 175.1,354.72 175.23,356.31 C175.36,357.9 175.57,359.25 175.7,360.55 C175.83,361.84 176.09,363.13 176.01,364.08 C175.94,365.02 176.09,365.9 175.23,366.19 C174.37,366.49 171.75,366.02 170.83,365.84 C169.92,365.66 170.18,365.25 169.73,365.13 C169.29,365.02 168.61,365.02 168.16,365.13 C167.72,365.25 167.98,365.66 167.07,365.84 C166.15,366.02 163.53,366.49 162.67,366.19 C161.81,365.9 161.96,365.02 161.88,364.08 C161.81,363.13 162.07,361.84 162.2,360.55 C162.33,359.25 162.54,357.9 162.67,356.31 C162.8,354.72 162.88,352.78 162.98,351.02 C163.09,349.25 163.14,347.31 163.3,345.72 C163.46,344.13 163.66,342.78 163.93,341.48 C164.19,340.19 164.61,339.01 164.87,337.95 C165.13,336.89 165.18,335.95 165.5,335.13 C165.81,334.31 166.18,333.48 166.75,333.01 C167.33,332.54 168.22,332.31 168.95,332.31 Z" fill="url(#mouse)" />
<ellipse cx="168.95" cy="351.02" rx="4.4" ry="10.59" fill="#f2f2f2" opacity="0.55"/>
<ellipse cx="168.95" cy="336.54" rx="1.88" ry="2.82" fill="#f0f0f0" opacity="0.5"/>
<ellipse cx="165.52" cy="352.77" rx="2.37" ry="2.44" fill="#7a7a7a" opacity="0.4" filter="url(#bl1)"/>
<ellipse cx="172.38" cy="360.67" rx="1.69" ry="2.29" fill="#7a7a7a" opacity="0.4" filter="url(#bl1)"/>
<ellipse cx="171.97" cy="353.54" rx="1.76" ry="2.05" fill="#7a7a7a" opacity="0.4" filter="url(#bl1)"/>
<ellipse cx="169.56" cy="354.68" rx="2.19" ry="2.82" fill="#7a7a7a" opacity="0.4" filter="url(#bl1)"/>
<ellipse cx="165.81" cy="350.55" rx="2.16" ry="2.44" fill="#7a7a7a" opacity="0.4" filter="url(#bl1)"/>
<ellipse cx="170.57" cy="363.22" rx="2.1" ry="2.81" fill="#7a7a7a" opacity="0.4" filter="url(#bl1)"/>
<ellipse cx="168.92" cy="342.12" rx="2.46" ry="2.17" fill="#7a7a7a" opacity="0.4" filter="url(#bl1)"/>
<text x="85.6" y="376" font-size="6.5" stroke="#231f20" stroke-width="0.1" textLength="24" lengthAdjust="spacingAndGlyphs">6.00E+7</text>
<text x="206.3" y="270.6" font-size="11.5" fill="#000" font-weight="bold">H</text>
<text x="223" y="283.6" font-size="9" stroke="#231f20" stroke-width="0.1" textLength="89" lengthAdjust="spacingAndGlyphs">SEM cells - treated d12</text>
<line x1="235.5" y1="291" x2="235.5" y2="356.3" stroke="#231f20" stroke-width="1" />
<line x1="233" y1="356" x2="235.5" y2="356" stroke="#231f20" stroke-width="0.8" />
<text x="229.6" y="358.36" font-size="6" stroke="#231f20" stroke-width="0.1" text-anchor="end">10<tspan font-size="3.96" dy="-2.7">5</tspan></text>
<line x1="233" y1="345.4" x2="235.5" y2="345.4" stroke="#231f20" stroke-width="0.8" />
<text x="229.6" y="347.76" font-size="6" stroke="#231f20" stroke-width="0.1" text-anchor="end">10<tspan font-size="3.96" dy="-2.7">6</tspan></text>
<line x1="233" y1="334.8" x2="235.5" y2="334.8" stroke="#231f20" stroke-width="0.8" />
<text x="229.6" y="337.16" font-size="6" stroke="#231f20" stroke-width="0.1" text-anchor="end">10<tspan font-size="3.96" dy="-2.7">7</tspan></text>
<line x1="233" y1="324.2" x2="235.5" y2="324.2" stroke="#231f20" stroke-width="0.8" />
<text x="229.6" y="326.56" font-size="6" stroke="#231f20" stroke-width="0.1" text-anchor="end">10<tspan font-size="3.96" dy="-2.7">8</tspan></text>
<line x1="233" y1="313.6" x2="235.5" y2="313.6" stroke="#231f20" stroke-width="0.8" />
<text x="229.6" y="315.96" font-size="6" stroke="#231f20" stroke-width="0.1" text-anchor="end">10<tspan font-size="3.96" dy="-2.7">9</tspan></text>
<line x1="233" y1="303" x2="235.5" y2="303" stroke="#231f20" stroke-width="0.8" />
<text x="229.6" y="305.36" font-size="6" stroke="#231f20" stroke-width="0.1" text-anchor="end">10<tspan font-size="3.96" dy="-2.7">10</tspan></text>
<line x1="233" y1="292.4" x2="235.5" y2="292.4" stroke="#231f20" stroke-width="0.8" />
<text x="229.6" y="294.76" font-size="6" stroke="#231f20" stroke-width="0.1" text-anchor="end">10<tspan font-size="3.96" dy="-2.7">11</tspan></text>
<line x1="235" y1="355.9" x2="298.8" y2="355.9" stroke="#231f20" stroke-width="1" />
<line x1="239.5" y1="355.9" x2="239.5" y2="358.4" stroke="#231f20" stroke-width="0.8" />
<text transform="translate(241.7,362.1) rotate(-90)" x="0" y="0" font-size="6.3" stroke="#231f20" stroke-width="0.1" text-anchor="end">6</text>
<line x1="246.35" y1="355.9" x2="246.35" y2="358.4" stroke="#231f20" stroke-width="0.8" />
<text transform="translate(248.55,362.1) rotate(-90)" x="0" y="0" font-size="6.3" stroke="#231f20" stroke-width="0.1" text-anchor="end">10</text>
<line x1="253.2" y1="355.9" x2="253.2" y2="358.4" stroke="#231f20" stroke-width="0.8" />
<text transform="translate(255.4,362.1) rotate(-90)" x="0" y="0" font-size="6.3" stroke="#231f20" stroke-width="0.1" text-anchor="end">15</text>
<line x1="260.05" y1="355.9" x2="260.05" y2="358.4" stroke="#231f20" stroke-width="0.8" />
<text transform="translate(262.25,362.1) rotate(-90)" x="0" y="0" font-size="6.3" stroke="#231f20" stroke-width="0.1" text-anchor="end">17</text>
<line x1="266.9" y1="355.9" x2="266.9" y2="358.4" stroke="#231f20" stroke-width="0.8" />
<text transform="translate(269.1,362.1) rotate(-90)" x="0" y="0" font-size="6.3" stroke="#231f20" stroke-width="0.1" text-anchor="end">21</text>
<line x1="273.75" y1="355.9" x2="273.75" y2="358.4" stroke="#231f20" stroke-width="0.8" />
<text transform="translate(275.95,362.1) rotate(-90)" x="0" y="0" font-size="6.3" stroke="#231f20" stroke-width="0.1" text-anchor="end">28</text>
<line x1="280.6" y1="355.9" x2="280.6" y2="358.4" stroke="#231f20" stroke-width="0.8" />
<text transform="translate(282.8,362.1) rotate(-90)" x="0" y="0" font-size="6.3" stroke="#231f20" stroke-width="0.1" text-anchor="end">35</text>
<line x1="287.45" y1="355.9" x2="287.45" y2="358.4" stroke="#231f20" stroke-width="0.8" />
<text transform="translate(289.65,362.1) rotate(-90)" x="0" y="0" font-size="6.3" stroke="#231f20" stroke-width="0.1" text-anchor="end">42</text>
<line x1="294.3" y1="355.9" x2="294.3" y2="358.4" stroke="#231f20" stroke-width="0.8" />
<text transform="translate(296.5,362.1) rotate(-90)" x="0" y="0" font-size="6.3" stroke="#231f20" stroke-width="0.1" text-anchor="end">49</text>
<text x="261" y="380.3" font-size="8.4" stroke="#231f20" stroke-width="0.1" textLength="14" lengthAdjust="spacingAndGlyphs">Days</text>
<text transform="translate(212.9,327.5) rotate(-90)" x="0" y="0" font-size="7.8" stroke="#231f20" stroke-width="0.1" text-anchor="middle" textLength="32.3" lengthAdjust="spacingAndGlyphs">Photon/sec</text>
<polyline points="239.5,334.5 246.35,320.5 253.2,311 260.05,305 266.9,299 267.5,294.5" fill="none" stroke="#9aa4b8" stroke-width="1" stroke-linejoin="round" />
<polyline points="239.5,334.5 246.35,320.5 253.2,313 260.05,308 266.9,302 267.5,297.5" fill="none" stroke="#9aa4b8" stroke-width="1" stroke-linejoin="round" />
<polyline points="246.35,320.5 253.2,308 260.05,302 266.9,297 267.5,293.5" fill="none" stroke="#9aa4b8" stroke-width="0.9" stroke-linejoin="round" />
<polyline points="246.35,320.5 253.2,348 260.05,350 266.9,350 273.75,349.5 280.6,349.5 287.45,348.5 294.3,349" fill="none" stroke="#4a2c86" stroke-width="1.2" stroke-linejoin="round" />
<polyline points="246.35,320.5 253.2,343 260.05,348 266.9,349 273.75,350 280.6,349 287.45,349 294.3,350" fill="none" stroke="#4a2c86" stroke-width="1.2" stroke-linejoin="round" />
<polyline points="246.35,320.5 253.2,338 260.05,346 266.9,348 273.75,348.5 280.6,350 287.45,349.5 294.3,348.5" fill="none" stroke="#4a2c86" stroke-width="1.2" stroke-linejoin="round" />
<polyline points="246.35,320.5 253.2,352.5 260.05,347.5 266.9,347.5 273.75,348 280.6,348.5 287.45,348 294.3,349.5" fill="none" stroke="#4a2c86" stroke-width="1.2" stroke-linejoin="round" />
<polyline points="246.35,322 253.2,345 260.05,349 266.9,351 273.75,349 280.6,348 287.45,350 294.3,349" fill="none" stroke="#4a2c86" stroke-width="1.2" stroke-linejoin="round" />
<text x="328.4" y="269.7" font-size="11.5" fill="#000" font-weight="bold">I</text>
<text x="344.8" y="283.4" font-size="9" stroke="#231f20" stroke-width="0.1" textLength="89.2" lengthAdjust="spacingAndGlyphs">SEM cells - treated d12</text>
<line x1="356.2" y1="289.3" x2="356.2" y2="356.7" stroke="#231f20" stroke-width="1" />
<line x1="353.8" y1="356.3" x2="356.2" y2="356.3" stroke="#231f20" stroke-width="0.8" />
<text x="353.2" y="358.5" font-size="6.3" stroke="#231f20" stroke-width="0.1" text-anchor="end">0</text>
<line x1="353.8" y1="343.36" x2="356.2" y2="343.36" stroke="#231f20" stroke-width="0.8" />
<text x="353.2" y="345.56" font-size="6.3" stroke="#231f20" stroke-width="0.1" text-anchor="end">20</text>
<line x1="353.8" y1="330.42" x2="356.2" y2="330.42" stroke="#231f20" stroke-width="0.8" />
<text x="353.2" y="332.62" font-size="6.3" stroke="#231f20" stroke-width="0.1" text-anchor="end">40</text>
<line x1="353.8" y1="317.48" x2="356.2" y2="317.48" stroke="#231f20" stroke-width="0.8" />
<text x="353.2" y="319.68" font-size="6.3" stroke="#231f20" stroke-width="0.1" text-anchor="end">60</text>
<line x1="353.8" y1="304.54" x2="356.2" y2="304.54" stroke="#231f20" stroke-width="0.8" />
<text x="353.2" y="306.74" font-size="6.3" stroke="#231f20" stroke-width="0.1" text-anchor="end">80</text>
<line x1="353.8" y1="291.6" x2="356.2" y2="291.6" stroke="#231f20" stroke-width="0.8" />
<text x="353.2" y="293.8" font-size="6.3" stroke="#231f20" stroke-width="0.1" text-anchor="end">100</text>
<line x1="355.8" y1="356.3" x2="421.5" y2="356.3" stroke="#231f20" stroke-width="1" />
<line x1="357.2" y1="356.3" x2="357.2" y2="358.7" stroke="#231f20" stroke-width="0.8" />
<text x="357.2" y="367.8" font-size="6.3" stroke="#231f20" stroke-width="0.1" text-anchor="middle">0</text>
<line x1="368.84" y1="356.3" x2="368.84" y2="358.7" stroke="#231f20" stroke-width="0.8" />
<text x="368.84" y="367.8" font-size="6.3" stroke="#231f20" stroke-width="0.1" text-anchor="middle">10</text>
<line x1="380.48" y1="356.3" x2="380.48" y2="358.7" stroke="#231f20" stroke-width="0.8" />
<text x="380.48" y="367.8" font-size="6.3" stroke="#231f20" stroke-width="0.1" text-anchor="middle">20</text>
<line x1="392.12" y1="356.3" x2="392.12" y2="358.7" stroke="#231f20" stroke-width="0.8" />
<text x="392.12" y="367.8" font-size="6.3" stroke="#231f20" stroke-width="0.1" text-anchor="middle">30</text>
<line x1="403.76" y1="356.3" x2="403.76" y2="358.7" stroke="#231f20" stroke-width="0.8" />
<text x="403.76" y="367.8" font-size="6.3" stroke="#231f20" stroke-width="0.1" text-anchor="middle">40</text>
<line x1="415.4" y1="356.3" x2="415.4" y2="358.7" stroke="#231f20" stroke-width="0.8" />
<text x="415.4" y="367.8" font-size="6.3" stroke="#231f20" stroke-width="0.1" text-anchor="middle">50</text>
<text x="382" y="378.6" font-size="8.4" stroke="#231f20" stroke-width="0.1" textLength="14" lengthAdjust="spacingAndGlyphs">Days</text>
<text transform="translate(334.2,322) rotate(-90)" x="0" y="0" font-size="7.8" stroke="#231f20" stroke-width="0.1" text-anchor="middle" textLength="58" lengthAdjust="spacingAndGlyphs">Overall survival (%)</text>
<polyline points="356.2,291.8 381.7,291.8 381.7,324.05 384.3,324.05 384.3,356.3" fill="none" stroke="#9aa4b8" stroke-width="1.2" stroke-linejoin="round" />
<polyline points="381.7,291.8 421.6,291.8" fill="none" stroke="#4a2c86" stroke-width="1.2" stroke-linejoin="round" />
<line x1="390" y1="327" x2="393.4" y2="327" stroke="#9aa4b8" stroke-width="0.9" />
<circle cx="391.7" cy="327" r="0.9" fill="#9aa4b8" />
<text x="397.5" y="329.1" font-size="5.8" stroke="#231f20" stroke-width="0.1" textLength="23.1" lengthAdjust="spacingAndGlyphs">untreated</text>
<line x1="389.4" y1="338" x2="393.1" y2="338" stroke="#4a2c86" stroke-width="0.9" />
<circle cx="391.2" cy="338" r="0.9" fill="#4a2c86" />
<text x="397.5" y="337" font-size="5.8" stroke="#231f20" stroke-width="0.1" textLength="31.9" lengthAdjust="spacingAndGlyphs">CD19–CD133</text>
<text x="398.1" y="343.9" font-size="5.8" stroke="#231f20" stroke-width="0.1" textLength="32.5" lengthAdjust="spacingAndGlyphs">CAR-iNKT 10<tspan font-size="3.8" dy="-2.4">7</tspan></text>
<polyline points="426.3,327 436.3,327 436.3,337.8 434.4,337.8" fill="none" stroke="#231f20" stroke-width="0.7" stroke-linejoin="round" />
<path d="M439.6,329 L439.6,331.4 M440.64,329.6 L438.56,330.8 M440.64,330.8 L438.56,329.6 " stroke="#231f20" stroke-width="0.65" fill="none"/>
<path d="M439.6,331.4 L439.6,333.8 M440.64,332 L438.56,333.2 M440.64,333.2 L438.56,332 " stroke="#231f20" stroke-width="0.65" fill="none"/>
<path d="M439.6,333.8 L439.6,336.2 M440.64,334.4 L438.56,335.6 M440.64,335.6 L438.56,334.4 " stroke="#231f20" stroke-width="0.65" fill="none"/>
<text x="7" y="399.6" font-size="11.5" fill="#000" font-weight="bold">J</text>
<path d="M26,427.7 C35.91,427.7 43.7,433.32 43.7,442.31 C43.7,448.77 42.64,453.55 38.74,455.52 C35.91,456.08 33.08,455.8 30.96,455.52 C28.97,452.99 27.42,447.37 26,447.37 C24.58,447.37 23.03,452.99 21.04,455.52 C18.92,455.8 16.09,456.08 13.26,455.52 C9.36,453.55 8.3,448.77 8.3,442.31 C8.3,433.32 16.09,427.7 26,427.7 Z" fill="#ead2bc" stroke="#bca08c" stroke-width="0.6" />
<path d="M26,429.67 C34.52,429.67 41.22,434.7 41.22,442.74 C41.22,448.53 40.31,452.8 36.96,454.57 C34.52,455.07 32.09,454.82 30.87,454.57 C28.92,452.3 27.22,446.52 26,446.52 C24.78,446.52 23.08,452.3 21.13,454.57 C19.91,454.82 17.48,455.07 15.04,454.57 C11.69,452.8 10.78,448.53 10.78,442.74 C10.78,434.7 17.48,429.67 26,429.67 Z" fill="#dfb89c" stroke="#c8a088" stroke-width="0.5" />
<path d="M15.38,436.13 Q17.15,440.35 14.67,444.56" fill="none" stroke="#c99e80" stroke-width="0.6" />
<path d="M36.62,436.13 Q34.85,440.35 37.33,444.56" fill="none" stroke="#c99e80" stroke-width="0.6" />
<path d="M18.92,431.91 Q21.75,434.73 20.34,438.94" fill="none" stroke="#c99e80" stroke-width="0.6" />
<path d="M33.08,431.91 Q30.25,434.73 31.66,438.94" fill="none" stroke="#c99e80" stroke-width="0.6" />
<path d="M13.61,447.37 Q17.15,448.77 18.92,451.59" fill="none" stroke="#c99e80" stroke-width="0.6" />
<path d="M38.39,447.37 Q34.85,448.77 33.08,451.59" fill="none" stroke="#c99e80" stroke-width="0.6" />
<path d="M12.55,440.35 Q15.38,441.75 13.26,445.12" fill="none" stroke="#c99e80" stroke-width="0.6" />
<path d="M39.45,440.35 Q36.62,441.75 38.74,445.12" fill="none" stroke="#c99e80" stroke-width="0.6" />
<path d="M19.98,452.99 L26,446.25 L32.02,452.99 L30.25,453.55 L26,449.06 L21.75,453.55 Z" fill="#f7f8fb" stroke="#c0c4cc" stroke-width="0.35" />
<ellipse cx="26" cy="436" rx="4" ry="7" fill="#cfc6aa" opacity="0.85" filter="url(#bl1)"/>
<ellipse cx="26" cy="440" rx="2.5" ry="2" fill="#e4e4e0" opacity="0.8"/>
<rect x="10.6" y="451.5" width="3.9" height="3.1" fill="none" stroke="#7a6050" stroke-width="0.6"/>
<text x="62.5" y="409.9" font-size="7" fill="#a2a2a8" stroke="#a2a2a8" stroke-width="0.1" textLength="28" lengthAdjust="spacingAndGlyphs">untreated</text>
<text x="108.7" y="410.4" font-size="7" fill="#5e3486" stroke="#5e3486" stroke-width="0.1" textLength="55.3" lengthAdjust="spacingAndGlyphs">Bi CAR-iNKT 5×10<tspan font-size="4.2" dy="-2.6">6</tspan></text>
<rect x="48.1" y="413.1" width="58.2" height="27.5" fill="#c8d0dc" />
<path d="M56.7,413.1 L61.5,413.1 L68,440.6 L62,440.6 Z" fill="#e0e3ea" />
<path d="M61.5,413.1 L94.9,413.1 L86.5,440.6 L68,440.6 Z" fill="#7a7377" />
<path d="M70,413.1 L73,413.1 L76,440.6 L74,440.6 Z" fill="#8c868a" filter="url(#bl2)"/>
<path d="M80,413.1 L82,413.1 L81,440.6 L79.5,440.6 Z" fill="#8a8488" filter="url(#bl2)"/>
<path d="M86.5,440.6 L88.5,431 L90.5,440.6 Z" fill="#eef0f4" />
<line x1="50" y1="438.5" x2="56" y2="438.5" stroke="#666" stroke-width="0.6" />
<rect x="48.1" y="443.8" width="58.2" height="28.1" fill="#c8d0de" />
<path d="M48.1,443.8 L68,443.8 L58,450 L48.1,459 Z" fill="#a6b0c2" />
<path d="M66,443.8 L86.5,443.8 L78,452 L70,462 L64,472 L48.1,472 L48.1,459 L58,450 Z" fill="#74625f" />
<path d="M86.5,443.8 L88,443.8 L81,451 L79.8,450.5 Z" fill="#3a3236" />
<ellipse cx="59" cy="466" rx="1.1" ry="2.8" fill="#eef0f4" transform="rotate(25 59 466)"/>
<ellipse cx="52" cy="447" rx="2.5" ry="1.6" fill="#e4e8f0" />
<rect x="108.5" y="413.1" width="57.8" height="27.5" fill="#c8d0dc" />
<rect x="126.9" y="413.1" width="18.1" height="27.5" fill="#ecedeb" />
<line x1="110" y1="438.5" x2="116" y2="438.5" stroke="#666" stroke-width="0.6" />
<rect x="108.5" y="443.8" width="57.8" height="28.1" fill="#edeeea" />
<path d="M108.5,458 Q122,462 137,471.9 L108.5,471.9 Z" fill="#c4ccda" />
<path d="M142.5,471.9 Q150,452 166.3,446.5 L166.3,471.9 Z" fill="#c4ccda" />
<line x1="110" y1="469.5" x2="116" y2="469.5" stroke="#666" stroke-width="0.6" />
<line x1="197.5" y1="398.3" x2="197.5" y2="474" stroke="#231f20" stroke-width="1" />
<line x1="195.2" y1="473.7" x2="197.5" y2="473.7" stroke="#231f20" stroke-width="0.8" />
<text x="192.6" y="476" font-size="6.5" stroke="#231f20" stroke-width="0.1" text-anchor="end">0</text>
<line x1="195.2" y1="459.26" x2="197.5" y2="459.26" stroke="#231f20" stroke-width="0.8" />
<text x="192.6" y="461.56" font-size="6.5" stroke="#231f20" stroke-width="0.1" text-anchor="end">1</text>
<line x1="195.2" y1="444.82" x2="197.5" y2="444.82" stroke="#231f20" stroke-width="0.8" />
<text x="192.6" y="447.12" font-size="6.5" stroke="#231f20" stroke-width="0.1" text-anchor="end">2</text>
<line x1="195.2" y1="430.38" x2="197.5" y2="430.38" stroke="#231f20" stroke-width="0.8" />
<text x="192.6" y="432.68" font-size="6.5" stroke="#231f20" stroke-width="0.1" text-anchor="end">3</text>
<line x1="195.2" y1="415.94" x2="197.5" y2="415.94" stroke="#231f20" stroke-width="0.8" />
<text x="192.6" y="418.24" font-size="6.5" stroke="#231f20" stroke-width="0.1" text-anchor="end">4</text>
<line x1="195.2" y1="401.5" x2="197.5" y2="401.5" stroke="#231f20" stroke-width="0.8" />
<text x="192.6" y="403.8" font-size="6.5" stroke="#231f20" stroke-width="0.1" text-anchor="end">5</text>
<line x1="197.2" y1="473.7" x2="249.2" y2="473.7" stroke="#231f20" stroke-width="1" />
<line x1="212.3" y1="473.7" x2="212.3" y2="476" stroke="#231f20" stroke-width="0.8" />
<line x1="234.4" y1="473.7" x2="234.4" y2="476" stroke="#231f20" stroke-width="0.8" />
<text x="212.3" y="485.2" font-size="6.5" stroke="#231f20" stroke-width="0.1" text-anchor="middle">UT</text>
<text x="234.4" y="485.2" font-size="6.5" stroke="#231f20" stroke-width="0.1" text-anchor="middle">Bi</text>
<text x="234.4" y="492.9" font-size="6.5" stroke="#231f20" stroke-width="0.1" text-anchor="middle" textLength="26" lengthAdjust="spacingAndGlyphs">CAR-iNKT</text>
<text transform="translate(183.3,436.2) rotate(-90)" x="0" y="0" font-size="7.8" stroke="#231f20" stroke-width="0.1" text-anchor="middle" textLength="49" lengthAdjust="spacingAndGlyphs">Infiltration grade</text>
<circle cx="206.5" cy="415.94" r="1.1" fill="#8f96a2" />
<circle cx="209.7" cy="415.94" r="1.1" fill="#8f96a2" />
<circle cx="212.9" cy="415.94" r="1.1" fill="#8f96a2" />
<circle cx="216.1" cy="415.94" r="1.1" fill="#8f96a2" />
<circle cx="219.3" cy="415.94" r="1.1" fill="#8f96a2" />
<circle cx="210.4" cy="423.16" r="1.1" fill="#8f96a2" />
<circle cx="214.6" cy="423.16" r="1.1" fill="#8f96a2" />
<circle cx="212.7" cy="430.38" r="1.1" fill="#8f96a2" />
<circle cx="228" cy="473.7" r="1.1" fill="#7a3aa8" />
<circle cx="230.6" cy="473.7" r="1.1" fill="#7a3aa8" />
<circle cx="233.2" cy="473.7" r="1.1" fill="#7a3aa8" />
<circle cx="235.8" cy="473.7" r="1.1" fill="#7a3aa8" />
<circle cx="238.4" cy="473.7" r="1.1" fill="#7a3aa8" />
<circle cx="241" cy="473.7" r="1.1" fill="#7a3aa8" />
<polyline points="212.3,410.8 212.3,407.3 234.4,407.3 234.4,473.7" fill="none" stroke="#231f20" stroke-width="0.7" stroke-linejoin="round" />
<path d="M219.5,403.2 L219.5,405.6 M220.54,403.8 L218.46,405 M220.54,405 L218.46,403.8 " stroke="#231f20" stroke-width="0.65" fill="none"/>
<path d="M222.1,403.2 L222.1,405.6 M223.14,403.8 L221.06,405 M223.14,405 L221.06,403.8 " stroke="#231f20" stroke-width="0.65" fill="none"/>
<path d="M224.7,403.2 L224.7,405.6 M225.74,403.8 L223.66,405 M225.74,405 L223.66,403.8 " stroke="#231f20" stroke-width="0.65" fill="none"/>
<path d="M227.3,403.2 L227.3,405.6 M228.34,403.8 L226.26,405 M228.34,405 L226.26,403.8 " stroke="#231f20" stroke-width="0.65" fill="none"/>
<text x="265.9" y="399.5" font-size="11.5" fill="#000" font-weight="bold">K</text>
<text x="266" y="412.2" font-size="7" stroke="#231f20" stroke-width="0.1" textLength="42.5" lengthAdjust="spacingAndGlyphs">SEM Luc<tspan font-size="4.6" dy="-2.4">+</tspan><tspan dy="2.4"> cells</tspan></text>
<text x="279.4" y="420.6" font-size="7" stroke="#231f20" stroke-width="0.1" textLength="18.3" lengthAdjust="spacingAndGlyphs">10<tspan font-size="4" dy="-2.4">6</tspan><tspan dy="2.4"> </tspan><tspan font-style="italic">i.v.</tspan></text>
<path d="M313.8,414 C309,413.5 306,416 306.3,420.5" fill="none" stroke="#111" stroke-width="0.7" />
<path d="M304.6,418.8 L306.3,422 L308,418.8 Z" fill="#111" />
<path d="M293.5,434.5 C297,435.5 298.5,437.5 297,439 C295,440.5 289,439.5 285,438.5" fill="none" stroke="#c8a4a4" stroke-width="0.7" />
<path d="M273,429.5 C273,427 276,425.5 279,425.5 C282,424.5 287,424.5 290.5,426.5 C293.5,428 295,431 294.5,433.5 C293.5,435.5 290,436 286,436 L280,435.5 C277,435 274.5,432 273,429.5 Z" fill="#f3f1f1" stroke="#aaa2a2" stroke-width="0.5" />
<ellipse cx="280.2" cy="425.6" rx="1.6" ry="1.3" fill="#ecdcdc" stroke="#b0a0a0" stroke-width="0.4"/>
<circle cx="276.3" cy="428.2" r="0.45" fill="#555" />
<line x1="277.5" y1="435.5" x2="276.5" y2="437" stroke="#aaa" stroke-width="0.6" />
<line x1="288.5" y1="436" x2="289.5" y2="437.3" stroke="#aaa" stroke-width="0.6" />
<line x1="298.5" y1="431.6" x2="306.4" y2="424.1" stroke="#9fb0c4" stroke-width="1.8" />
<line x1="297.2" y1="432.8" x2="298.6" y2="431.5" stroke="#667788" stroke-width="0.7" />
<text x="272.2" y="448.6" font-size="7" stroke="#231f20" stroke-width="0.1" textLength="29" lengthAdjust="spacingAndGlyphs">NSG mice</text>
<line x1="330" y1="419" x2="325.5" y2="412" stroke="#4f7fc0" stroke-width="0.8" />
<circle cx="325.5" cy="411.8" r="0.8" fill="#4f7fc0" />
<line x1="335.5" y1="419" x2="339.2" y2="412" stroke="#333" stroke-width="0.8" />
<circle cx="339.2" cy="411.8" r="0.8" fill="#333" />
<circle cx="332.9" cy="422.2" r="5.2" fill="#f2a4a4" />
<circle cx="332.9" cy="422.2" r="2.6" fill="#e2605e" />
<text x="309.8" y="410.4" font-size="7" stroke="#231f20" stroke-width="0.1" textLength="16.2" lengthAdjust="spacingAndGlyphs">CD19</text>
<text x="340.2" y="410.4" font-size="7" stroke="#231f20" stroke-width="0.1" textLength="19.4" lengthAdjust="spacingAndGlyphs">CD133</text>
<line x1="302.5" y1="430.5" x2="363.7" y2="430.5" stroke="#dcae84" stroke-width="1.5" />
<text x="324.6" y="443.6" font-size="7" stroke="#231f20" stroke-width="0.1" font-style="italic" textLength="16.2" lengthAdjust="spacingAndGlyphs">In vivo</text>
<text x="309.8" y="451.8" font-size="7" stroke="#231f20" stroke-width="0.1" textLength="47.2" lengthAdjust="spacingAndGlyphs">bioluminescence</text>
<text x="323.3" y="459.5" font-size="7" stroke="#231f20" stroke-width="0.1" textLength="22.7" lengthAdjust="spacingAndGlyphs">imaging</text>
<polyline points="265.2,459.6 265.2,462.2 306.8,462.2 306.8,459.6" fill="none" stroke="#333" stroke-width="0.8" stroke-linejoin="round" />
<polyline points="308.5,459.6 308.5,462.2 358.9,462.2 358.9,459.6" fill="none" stroke="#333" stroke-width="0.8" stroke-linejoin="round" />
<polyline points="360.5,459.6 360.5,462.2 418.6,462.2 418.6,459.6" fill="none" stroke="#333" stroke-width="0.8" stroke-linejoin="round" />
<polyline points="425.8,459.2 425.8,461.8 503.6,461.8 503.6,459.2" fill="none" stroke="#333" stroke-width="0.8" stroke-linejoin="round" />
<text x="285.6" y="471.5" font-size="7" stroke="#231f20" stroke-width="0.1" text-anchor="middle" textLength="14.6" lengthAdjust="spacingAndGlyphs">day 1</text>
<text x="332.2" y="471.5" font-size="7" stroke="#231f20" stroke-width="0.1" text-anchor="middle" textLength="18" lengthAdjust="spacingAndGlyphs">day 14</text>
<text x="387.6" y="471.5" font-size="7" stroke="#231f20" stroke-width="0.1" text-anchor="middle" textLength="18" lengthAdjust="spacingAndGlyphs">day 16</text>
<text x="387.6" y="481.3" font-size="7" stroke="#231f20" stroke-width="0.1" text-anchor="middle" textLength="29" lengthAdjust="spacingAndGlyphs">Treatment</text>
<text x="362.4" y="491.8" font-size="7" stroke="#231f20" stroke-width="0.1" textLength="49.7" lengthAdjust="spacingAndGlyphs"><tspan fill="#d65a78">6</tspan> Untreated mice</text>
<text x="366.3" y="501.6" font-size="7" stroke="#231f20" stroke-width="0.1" textLength="42.5" lengthAdjust="spacingAndGlyphs"><tspan fill="#d65a78">4</tspan> Treated mice</text>
<text x="363.7" y="411.7" font-size="7" stroke="#231f20" stroke-width="0.1" textLength="38.6" lengthAdjust="spacingAndGlyphs">No treatment</text>
<polyline points="404,419.3 363.7,419.3 363.7,442.2 404,442.2" fill="none" stroke="#c8925e" stroke-width="1" stroke-linejoin="round" />
<path d="M400,416.8 L405,419.3 L400,421.8 Z" fill="#c8925e" />
<path d="M400,439.7 L405,442.2 L400,444.7 Z" fill="#c8925e" />
<text x="363.9" y="430.4" font-size="7" stroke="#231f20" stroke-width="0.1" textLength="54.9" lengthAdjust="spacingAndGlyphs">CD19–CD133 CAR</text>
<text x="372.2" y="438.8" font-size="7" stroke="#231f20" stroke-width="0.1" textLength="39.9" lengthAdjust="spacingAndGlyphs">iNKT 10<tspan font-size="4" dy="-2.4">7</tspan><tspan dy="2.4"> cells</tspan></text>
<path d="M415.4,416 C418.5,416 418,418 418,424 C418,428 418.5,430.2 421.3,430.2 C418.5,430.2 418,432.4 418,436.4 C418,442.4 418.5,444.5 415.4,444.5" fill="none" stroke="#c8925e" stroke-width="0.9" />
<text x="448" y="415.6" font-size="7" stroke="#231f20" stroke-width="0.1" textLength="23" lengthAdjust="spacingAndGlyphs">Harvest</text>
<text x="425.2" y="425.8" font-size="7" stroke="#231f20" stroke-width="0.1" textLength="26.8" lengthAdjust="spacingAndGlyphs">Histology</text>
<line x1="425.2" y1="429.6" x2="452.2" y2="429.6" stroke="#c8283e" stroke-width="1.1" />
<text x="456.2" y="425.8" font-size="7" stroke="#231f20" stroke-width="0.1" textLength="44.8" lengthAdjust="spacingAndGlyphs">Flow cytometry</text>
<line x1="456.2" y1="429.6" x2="503" y2="429.6" stroke="#c8283e" stroke-width="1.1" />
<text x="430" y="437.9" font-size="7" stroke="#231f20" stroke-width="0.1" textLength="14.8" lengthAdjust="spacingAndGlyphs">Brain</text>
<text x="455.3" y="437.9" font-size="7" stroke="#231f20" stroke-width="0.1" textLength="38.5" lengthAdjust="spacingAndGlyphs">Bone marrow</text>
<text x="466" y="446" font-size="7" stroke="#231f20" stroke-width="0.1" textLength="18" lengthAdjust="spacingAndGlyphs">Spleen</text>
<text x="446.4" y="457.5" font-size="7" stroke="#231f20" stroke-width="0.1" textLength="27.2" lengthAdjust="spacingAndGlyphs">Endpoint</text>
<text x="424.5" y="471.6" font-size="7" stroke="#231f20" stroke-width="0.1" textLength="18" lengthAdjust="spacingAndGlyphs">day 16</text>
<line x1="452" y1="469.3" x2="459" y2="469.3" stroke="#c8283e" stroke-width="1.5" />
<path d="M456.5,466.7 L463,469.3 L456.5,471.9 L458,469.3 Z" fill="#c8283e" />
<text x="463.4" y="471.6" font-size="7" stroke="#231f20" stroke-width="0.1" textLength="50.1" lengthAdjust="spacingAndGlyphs"><tspan fill="#c8283e">3</tspan> Untreated mice</text>
<text x="420.3" y="481.4" font-size="7" stroke="#231f20" stroke-width="0.1" textLength="29" lengthAdjust="spacingAndGlyphs">day 21-23</text>
<line x1="452" y1="479.1" x2="459" y2="479.1" stroke="#c8283e" stroke-width="1.5" />
<path d="M456.5,476.5 L463,479.1 L456.5,481.7 L458,479.1 Z" fill="#c8283e" />
<text x="463.4" y="481.4" font-size="7" stroke="#231f20" stroke-width="0.1" textLength="50.1" lengthAdjust="spacingAndGlyphs"><tspan fill="#c8283e">3</tspan> Untreated mice</text>
<text x="424.5" y="491.9" font-size="7" stroke="#231f20" stroke-width="0.1" textLength="18" lengthAdjust="spacingAndGlyphs">day 36</text>
<line x1="452" y1="489.6" x2="459" y2="489.6" stroke="#c8283e" stroke-width="1.5" />
<path d="M456.5,487 L463,489.6 L456.5,492.2 L458,489.6 Z" fill="#c8283e" />
<text x="463.4" y="491.9" font-size="7" stroke="#231f20" stroke-width="0.1" textLength="40.2" lengthAdjust="spacingAndGlyphs"><tspan fill="#c8283e">2</tspan> Treated mice</text>
<text x="424.5" y="501.7" font-size="7" stroke="#231f20" stroke-width="0.1" textLength="18" lengthAdjust="spacingAndGlyphs">day 50</text>
<line x1="452" y1="499.4" x2="459" y2="499.4" stroke="#c8283e" stroke-width="1.5" />
<path d="M456.5,496.8 L463,499.4 L456.5,502 L458,499.4 Z" fill="#c8283e" />
<text x="463.4" y="501.7" font-size="7" stroke="#231f20" stroke-width="0.1" textLength="40.2" lengthAdjust="spacingAndGlyphs"><tspan fill="#c8283e">2</tspan> Treated mice</text>
<text x="6.8" y="521.6" font-size="11.5" fill="#000" font-weight="bold">L</text>
<path d="M36.35,552.4 C51.61,552.4 63.6,561.54 63.6,576.16 C63.6,586.67 61.97,594.44 55.97,597.64 C51.61,598.56 47.25,598.1 43.98,597.64 C40.93,593.53 38.53,587.13 36.35,587.13 C34.17,587.13 31.77,593.53 28.72,597.64 C25.45,598.1 21.09,598.56 16.73,597.64 C10.73,594.44 9.1,586.67 9.1,576.16 C9.1,561.54 21.09,552.4 36.35,552.4 Z" fill="#ead2bc" stroke="#bca08c" stroke-width="0.6" />
<path d="M36.35,555.6 C49.47,555.6 59.78,563.78 59.78,576.87 C59.78,586.28 58.38,593.23 53.22,596.09 C49.47,596.91 45.72,596.5 43.85,596.09 C40.85,592.41 38.22,585.46 36.35,585.46 C34.48,585.46 31.85,592.41 28.85,596.09 C26.98,596.5 23.23,596.91 19.48,596.09 C14.32,593.23 12.91,586.28 12.91,576.87 C12.91,563.78 23.23,555.6 36.35,555.6 Z" fill="#dfb89c" stroke="#9eaad6" stroke-width="0.5" />
<path d="M20,566.11 Q22.73,572.97 18.91,579.82" fill="none" stroke="#c99e80" stroke-width="0.6" />
<path d="M52.7,566.11 Q49.98,572.97 53.79,579.82" fill="none" stroke="#c99e80" stroke-width="0.6" />
<path d="M25.45,559.25 Q29.81,563.83 27.63,570.68" fill="none" stroke="#c99e80" stroke-width="0.6" />
<path d="M47.25,559.25 Q42.89,563.83 45.07,570.68" fill="none" stroke="#c99e80" stroke-width="0.6" />
<path d="M17.27,584.39 Q22.73,586.67 25.45,591.25" fill="none" stroke="#c99e80" stroke-width="0.6" />
<path d="M55.42,584.39 Q49.98,586.67 47.25,591.25" fill="none" stroke="#c99e80" stroke-width="0.6" />
<path d="M15.64,572.97 Q20,575.25 16.73,580.73" fill="none" stroke="#c99e80" stroke-width="0.6" />
<path d="M57.06,572.97 Q52.7,575.25 55.97,580.73" fill="none" stroke="#c99e80" stroke-width="0.6" />
<path d="M27.09,593.53 L36.35,585.3 L45.62,593.53 L42.89,594.44 L36.35,589.87 L29.81,594.44 Z" fill="#f7f8fb" stroke="#aab4cc" stroke-width="0.35" />
<ellipse cx="36.35" cy="566" rx="3" ry="8" fill="#e0b8c0" opacity="0.8"/>
<ellipse cx="42" cy="558.8" rx="4.5" ry="3.5" fill="#f0a0a8" opacity="0.9"/>
<rect x="37.6" y="555.6" width="9" height="6.4" fill="none" stroke="#d07080" stroke-width="0.5"/>
<ellipse cx="34.05" cy="575.5" rx="1.8" ry="1.3" fill="#f4f6fa" stroke="#9aa8d8" stroke-width="0.4"/>
<ellipse cx="38.65" cy="575.5" rx="1.8" ry="1.3" fill="#f4f6fa" stroke="#9aa8d8" stroke-width="0.4"/>
<rect x="12.9" y="590.5" width="7.6" height="5.7" fill="none" stroke="#5a4a40" stroke-width="0.8"/>
<text x="97" y="539.4" font-size="7" fill="#a0a0a8" stroke="#a0a0a8" stroke-width="0.1" textLength="30.7" lengthAdjust="spacingAndGlyphs">Untreated</text>
<text x="88.6" y="547" font-size="7" fill="#a0a0a8" stroke="#a0a0a8" stroke-width="0.1" textLength="48.4" lengthAdjust="spacingAndGlyphs">sacrificed day 16</text>
<text x="188.4" y="538.7" font-size="7" fill="#c8324e" stroke="#c8324e" stroke-width="0.1" textLength="29.2" lengthAdjust="spacingAndGlyphs">Untreated</text>
<text x="174.8" y="547.1" font-size="7" fill="#c8324e" stroke="#c8324e" stroke-width="0.1" textLength="56.2" lengthAdjust="spacingAndGlyphs">sacrificed day 21-23</text>
<text x="256.7" y="538.7" font-size="7" fill="#5c4a84" stroke="#5c4a84" stroke-width="0.1" textLength="72.3" lengthAdjust="spacingAndGlyphs">CAR-iNKT-treated day 16</text>
<text x="263.3" y="547.1" font-size="7" fill="#5c4a84" stroke="#5c4a84" stroke-width="0.1" textLength="58.4" lengthAdjust="spacingAndGlyphs">sacrificed day 36&amp;50</text>
<rect x="68.3" y="551.7" width="88.7" height="36" fill="#f1e1ea" />
<rect x="68.3" y="551.7" width="88.7" height="3" fill="#f3eef3" />
<path d="M68.3,555.5 L100,554.5 L130,553.8 L157,553 L157,559 L150,562 L145,565 L140,568 L132,572 L125,575 L115,577.5 L105,577 L95,575.5 L88,575.5 L85,576.5 L82,570 L78,565 L72,561 L68.3,559 Z" fill="url(#hePur)" />
<path d="M72,561 L78,565 L82,570 L85,576.5 L88,575.5 L95,575.5 L105,577 L115,577.5 L125,575 L132,572 L140,568 L145,565 L150,562 L157,559" fill="none" stroke="#f8f2f6" stroke-width="1.3" />
<line x1="70.8" y1="584.4" x2="96.7" y2="584.4" stroke="#1a1a1a" stroke-width="1.3" />
<line x1="70.8" y1="583.1" x2="70.8" y2="585.7" stroke="#1a1a1a" stroke-width="0.7" />
<line x1="96.7" y1="583.1" x2="96.7" y2="585.7" stroke="#1a1a1a" stroke-width="0.7" />
<rect x="68.3" y="592.1" width="88.7" height="36.6" fill="#eeedf1" />
<path d="M68.3,614 L90,618 L110,620.5 L125,618.5 L140,611 L150,612 L153,620 L150,628.7 L68.3,628.7 Z" fill="#cbcee2" />
<path d="M100,628.7 L105,622 L125,621 L140,616 L150,617 L152,624 L150,628.7 Z" fill="#d6d8e7" />
<path d="M68.3,599 L100,598 L130,596.5 L157,594.5 L157,602 L140,610 L125,617.5 L110,620 L90,617.5 L68.3,613 Z" fill="#d2b2a4" />
<path d="M72,602 L90,603 L110,604 L130,601 L150,598 L157,597 L157,600 L140,607 L125,613 L110,616.5 L92,614 L75,610 Z" fill="#cc9a7c" filter="url(#bl2)"/>
<line x1="70.8" y1="624.8" x2="96.7" y2="624.8" stroke="#1a1a1a" stroke-width="1.3" />
<line x1="70.8" y1="623.5" x2="70.8" y2="626.1" stroke="#1a1a1a" stroke-width="0.7" />
<line x1="96.7" y1="623.5" x2="96.7" y2="626.1" stroke="#1a1a1a" stroke-width="0.7" />
<rect x="159.7" y="551.5" width="87.6" height="35.2" fill="#f4ecf2" />
<path d="M159.7,562.3 L180,564 L195,568 L205,574 L212,578 L220,582.5 L232,585 L247.3,585 L247.3,586.7 L159.7,586.7 Z" fill="#e7a9cc" />
<path d="M159.7,551.5 L247.3,551.5 L247.3,583.8 L235.7,582.9 L221.4,580.2 L215,576.6 L209.8,572.2 L200,563.2 L180.3,556 L159.7,553.4 Z" fill="url(#hePur)" />
<line x1="160.8" y1="584.7" x2="185.6" y2="584.7" stroke="#1a1a1a" stroke-width="1.3" />
<line x1="160.8" y1="583.4" x2="160.8" y2="586" stroke="#1a1a1a" stroke-width="0.7" />
<line x1="185.6" y1="583.4" x2="185.6" y2="586" stroke="#1a1a1a" stroke-width="0.7" />
<rect x="160.2" y="592.1" width="87" height="37.3" fill="#ecebf0" />
<path d="M160.2,606 L190,610 L215,618 L232,626 L238,629.4 L160.2,629.4 Z" fill="#dedee6" />
<path d="M160.2,592.1 L204.3,592.1 L208,596 L218,600.5 L228,606 L231,604.5 L236,605 L240,607 L247.2,609.5 L247.2,629.1 L240,627 L233.6,624.6 L215.3,616.3 L191.6,608 L175,603.5 L160.2,600.5 Z" fill="url(#ihcBr)" />
<path d="M170,593 L180,593 L178,596 Z" fill="#7a4030" />
<line x1="162" y1="625.4" x2="187.5" y2="625.4" stroke="#1a1a1a" stroke-width="1.3" />
<line x1="162" y1="624.1" x2="162" y2="626.7" stroke="#1a1a1a" stroke-width="0.7" />
<line x1="187.5" y1="624.1" x2="187.5" y2="626.7" stroke="#1a1a1a" stroke-width="0.7" />
<rect x="250.3" y="551.9" width="87.5" height="36.9" fill="#f1eef1" />
<path d="M250.3,588.8 L250.3,587.9 C255,586 259,585 263.3,583.4 C270,580 276,576 281.5,574.2 C288,572 294,571 299.8,570.6 C306,570 312,569.5 318,569.1 C325,568.8 331,568.5 337.8,568.4 L337.8,588.8 Z" fill="#e6b9d6" />
<path d="M250.3,587.9 C255,586 259,585 263.3,583.4 C270,580 276,576 281.5,574.2 C288,572 294,571 299.8,570.6 C306,570 312,569.5 318,569.1 C325,568.8 331,568.5 337.8,568.4" fill="none" stroke="#8a64a8" stroke-width="0.8" />
<line x1="252.3" y1="584.8" x2="277.9" y2="584.8" stroke="#1a1a1a" stroke-width="1.3" />
<line x1="252.3" y1="583.5" x2="252.3" y2="586.1" stroke="#1a1a1a" stroke-width="0.7" />
<line x1="277.9" y1="583.5" x2="277.9" y2="586.1" stroke="#1a1a1a" stroke-width="0.7" />
<rect x="250.3" y="592.9" width="87.5" height="37.1" fill="#efeff3" />
<path d="M250.3,630 L250.3,628.1 C260,622 270,615 281.5,610.8 C290,608 300,605.5 308.9,604.4 C318,603 328,602 337.8,601.3 L337.8,630 Z" fill="#d7d9e8" />
<path d="M250.3,628.1 C260,622 270,615 281.5,610.8 C290,608 300,605.5 308.9,604.4 C318,603 328,602 337.8,601.3" fill="none" stroke="#a8aed0" stroke-width="0.7" />
<line x1="254.1" y1="625.4" x2="279.7" y2="625.4" stroke="#1a1a1a" stroke-width="1.3" />
<line x1="254.1" y1="624.1" x2="254.1" y2="626.7" stroke="#1a1a1a" stroke-width="0.7" />
<line x1="279.7" y1="624.1" x2="279.7" y2="626.7" stroke="#1a1a1a" stroke-width="0.7" />
<text x="348.6" y="522.2" font-size="11.5" fill="#000" font-weight="bold">M</text>
<line x1="369.6" y1="550.3" x2="369.6" y2="616.8" stroke="#231f20" stroke-width="1" />
<line x1="367.3" y1="616.4" x2="369.6" y2="616.4" stroke="#231f20" stroke-width="0.8" />
<text x="366" y="618.7" font-size="6.5" stroke="#231f20" stroke-width="0.1" text-anchor="end">0</text>
<line x1="367.3" y1="603.68" x2="369.6" y2="603.68" stroke="#231f20" stroke-width="0.8" />
<text x="366" y="605.98" font-size="6.5" stroke="#231f20" stroke-width="0.1" text-anchor="end">1</text>
<line x1="367.3" y1="590.96" x2="369.6" y2="590.96" stroke="#231f20" stroke-width="0.8" />
<text x="366" y="593.26" font-size="6.5" stroke="#231f20" stroke-width="0.1" text-anchor="end">2</text>
<line x1="367.3" y1="578.24" x2="369.6" y2="578.24" stroke="#231f20" stroke-width="0.8" />
<text x="366" y="580.54" font-size="6.5" stroke="#231f20" stroke-width="0.1" text-anchor="end">3</text>
<line x1="367.3" y1="565.52" x2="369.6" y2="565.52" stroke="#231f20" stroke-width="0.8" />
<text x="366" y="567.82" font-size="6.5" stroke="#231f20" stroke-width="0.1" text-anchor="end">4</text>
<line x1="367.3" y1="552.8" x2="369.6" y2="552.8" stroke="#231f20" stroke-width="0.8" />
<text x="366" y="555.1" font-size="6.5" stroke="#231f20" stroke-width="0.1" text-anchor="end">5</text>
<line x1="369.2" y1="616.4" x2="422.4" y2="616.4" stroke="#231f20" stroke-width="1" />
<line x1="380.4" y1="616.4" x2="380.4" y2="618.8" stroke="#231f20" stroke-width="0.8" />
<line x1="395.3" y1="616.4" x2="395.3" y2="618.8" stroke="#231f20" stroke-width="0.8" />
<line x1="410.4" y1="616.4" x2="410.4" y2="618.8" stroke="#231f20" stroke-width="0.8" />
<text transform="translate(355.5,582.8) rotate(-90)" x="0" y="0" font-size="7.8" stroke="#231f20" stroke-width="0.1" text-anchor="middle" textLength="49" lengthAdjust="spacingAndGlyphs">Infiltration grade</text>
<text transform="translate(384.2,625.3) rotate(-45)" x="0" y="0" font-size="7" stroke="#231f20" stroke-width="0.1" text-anchor="end" textLength="35" lengthAdjust="spacingAndGlyphs">untreat d16</text>
<text transform="translate(398.6,625.3) rotate(-45)" x="0" y="0" font-size="7" stroke="#231f20" stroke-width="0.1" text-anchor="end" textLength="21.5" lengthAdjust="spacingAndGlyphs">untreat</text>
<text transform="translate(413.9,625.3) rotate(-45)" x="0" y="0" font-size="7" stroke="#231f20" stroke-width="0.1" text-anchor="end" textLength="15" lengthAdjust="spacingAndGlyphs">treat</text>
<circle cx="378" cy="597.2" r="1.9" fill="#a9b0c0" stroke="#8890a0" stroke-width="0.5"/>
<circle cx="378" cy="603.2" r="1.9" fill="#a9b0c0" stroke="#8890a0" stroke-width="0.5"/>
<circle cx="383.3" cy="600.3" r="1.9" fill="#a9b0c0" stroke="#8890a0" stroke-width="0.5"/>
<rect x="391" y="563.6" width="3.8" height="3.8" fill="#c8203c" />
<rect x="396.5" y="563.6" width="3.8" height="3.8" fill="#c8203c" />
<rect x="393.7" y="569.4" width="3.8" height="3.8" fill="#c8203c" />
<circle cx="406.5" cy="616.4" r="1.1" fill="#6a3aa8" />
<circle cx="408.5" cy="616.4" r="1.1" fill="#6a3aa8" />
<circle cx="410.5" cy="616.4" r="1.1" fill="#6a3aa8" />
<circle cx="412.5" cy="616.4" r="1.1" fill="#6a3aa8" />
<circle cx="414" cy="616.4" r="1.1" fill="#6a3aa8" />
<polyline points="380.4,595 380.4,558.3 395.3,558.3 395.3,562.9" fill="none" stroke="#231f20" stroke-width="0.7" stroke-linejoin="round" />
<polyline points="395.3,557.6 395.3,545.6 410.4,545.6 410.4,616" fill="none" stroke="#231f20" stroke-width="0.7" stroke-linejoin="round" />
<polyline points="380.4,555 380.4,533.6 410.4,533.6 410.4,537.2" fill="none" stroke="#231f20" stroke-width="0.7" stroke-linejoin="round" />
<path d="M385.5,554.1 L385.5,556.5 M386.54,554.7 L384.46,555.9 M386.54,555.9 L384.46,554.7 " stroke="#231f20" stroke-width="0.65" fill="none"/>
<path d="M388,554.1 L388,556.5 M389.04,554.7 L386.96,555.9 M389.04,555.9 L386.96,554.7 " stroke="#231f20" stroke-width="0.65" fill="none"/>
<path d="M390.5,554.1 L390.5,556.5 M391.54,554.7 L389.46,555.9 M391.54,555.9 L389.46,554.7 " stroke="#231f20" stroke-width="0.65" fill="none"/>
<path d="M400.5,541.6 L400.5,544 M401.54,542.2 L399.46,543.4 M401.54,543.4 L399.46,542.2 " stroke="#231f20" stroke-width="0.65" fill="none"/>
<path d="M403,541.6 L403,544 M404.04,542.2 L401.96,543.4 M404.04,543.4 L401.96,542.2 " stroke="#231f20" stroke-width="0.65" fill="none"/>
<path d="M405.5,541.6 L405.5,544 M406.54,542.2 L404.46,543.4 M406.54,543.4 L404.46,542.2 " stroke="#231f20" stroke-width="0.65" fill="none"/>
<path d="M392.8,529.6 L392.8,532 M393.84,530.2 L391.76,531.4 M393.84,531.4 L391.76,530.2 " stroke="#231f20" stroke-width="0.65" fill="none"/>
<path d="M395.3,529.6 L395.3,532 M396.34,530.2 L394.26,531.4 M396.34,531.4 L394.26,530.2 " stroke="#231f20" stroke-width="0.65" fill="none"/>
<path d="M397.8,529.6 L397.8,532 M398.84,530.2 L396.76,531.4 M398.84,531.4 L396.76,530.2 " stroke="#231f20" stroke-width="0.65" fill="none"/>
<rect x="0.5" y="0.5" width="519" height="657" fill="none" stroke="#5a5a5a" stroke-width="1"/>
</svg>
</body></html>
